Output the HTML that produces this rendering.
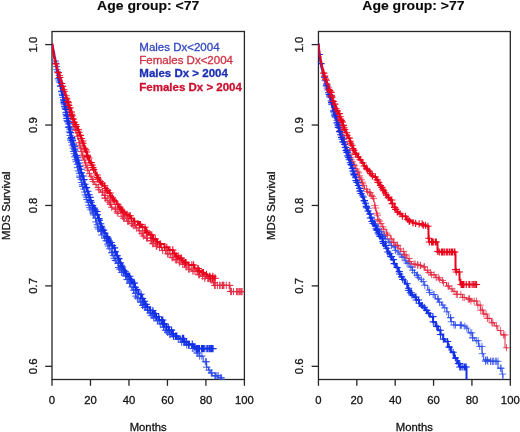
<!DOCTYPE html>
<html><head><meta charset="utf-8"><style>
html,body{margin:0;padding:0;background:#fff;width:520px;height:432px;overflow:hidden}
svg{display:block;filter:blur(0.35px)}
text{font-family:"Liberation Sans", sans-serif}
</style></head><body>
<svg width="520" height="432" viewBox="0 0 520 432" font-family='"Liberation Sans", sans-serif'><defs>
<clipPath id="cl"><rect x="52.0" y="31.5" width="192.4" height="348.0"/></clipPath>
<clipPath id="cr"><rect x="318.45" y="31.5" width="191.85000000000002" height="348.0"/></clipPath>
</defs><rect width="520" height="432" fill="#fff"/><g transform="translate(148.2 9.7) scale(1 0.86)"><text x="0" y="0" font-size="14" font-weight="bold" text-anchor="middle" fill="#0a0a0a" stroke="#0a0a0a" stroke-width="0.15">Age group: &lt;77</text></g>
<rect x="52.0" y="31.5" width="192.4" height="348.0" fill="none" stroke="#262626" stroke-width="1.3"/>
<line x1="52.0" y1="379.5" x2="52.0" y2="385.8" stroke="#262626" stroke-width="1.3"/>
<text x="52.0" y="404.3" font-size="11.3" font-weight="normal" text-anchor="middle" fill="#141414" stroke="#141414" stroke-width="0.3">0</text>
<line x1="90.47999999999999" y1="379.5" x2="90.47999999999999" y2="385.8" stroke="#262626" stroke-width="1.3"/>
<text x="90.47999999999999" y="404.3" font-size="11.3" font-weight="normal" text-anchor="middle" fill="#141414" stroke="#141414" stroke-width="0.3">20</text>
<line x1="128.95999999999998" y1="379.5" x2="128.95999999999998" y2="385.8" stroke="#262626" stroke-width="1.3"/>
<text x="128.95999999999998" y="404.3" font-size="11.3" font-weight="normal" text-anchor="middle" fill="#141414" stroke="#141414" stroke-width="0.3">40</text>
<line x1="167.44" y1="379.5" x2="167.44" y2="385.8" stroke="#262626" stroke-width="1.3"/>
<text x="167.44" y="404.3" font-size="11.3" font-weight="normal" text-anchor="middle" fill="#141414" stroke="#141414" stroke-width="0.3">60</text>
<line x1="205.92" y1="379.5" x2="205.92" y2="385.8" stroke="#262626" stroke-width="1.3"/>
<text x="205.92" y="404.3" font-size="11.3" font-weight="normal" text-anchor="middle" fill="#141414" stroke="#141414" stroke-width="0.3">80</text>
<line x1="244.4" y1="379.5" x2="244.4" y2="385.8" stroke="#262626" stroke-width="1.3"/>
<text x="244.4" y="404.3" font-size="11.3" font-weight="normal" text-anchor="middle" fill="#141414" stroke="#141414" stroke-width="0.3">100</text>
<text x="148.2" y="431.0" font-size="11.3" font-weight="normal" text-anchor="middle" fill="#141414" stroke="#141414" stroke-width="0.3">Months</text>
<line x1="45.2" y1="44.6" x2="52.0" y2="44.6" stroke="#262626" stroke-width="1.3"/>
<text x="36.8" y="44.6" font-size="11.3" font-weight="normal" text-anchor="middle" fill="#141414" stroke="#141414" stroke-width="0.3" transform="rotate(-90 36.8 44.6)">1.0</text>
<line x1="45.2" y1="125.02999999999997" x2="52.0" y2="125.02999999999997" stroke="#262626" stroke-width="1.3"/>
<text x="36.8" y="125.02999999999997" font-size="11.3" font-weight="normal" text-anchor="middle" fill="#141414" stroke="#141414" stroke-width="0.3" transform="rotate(-90 36.8 125.02999999999997)">0.9</text>
<line x1="45.2" y1="205.45999999999995" x2="52.0" y2="205.45999999999995" stroke="#262626" stroke-width="1.3"/>
<text x="36.8" y="205.45999999999995" font-size="11.3" font-weight="normal" text-anchor="middle" fill="#141414" stroke="#141414" stroke-width="0.3" transform="rotate(-90 36.8 205.45999999999995)">0.8</text>
<line x1="45.2" y1="285.89000000000004" x2="52.0" y2="285.89000000000004" stroke="#262626" stroke-width="1.3"/>
<text x="36.8" y="285.89000000000004" font-size="11.3" font-weight="normal" text-anchor="middle" fill="#141414" stroke="#141414" stroke-width="0.3" transform="rotate(-90 36.8 285.89000000000004)">0.7</text>
<line x1="45.2" y1="366.32000000000005" x2="52.0" y2="366.32000000000005" stroke="#262626" stroke-width="1.3"/>
<text x="36.8" y="366.32000000000005" font-size="11.3" font-weight="normal" text-anchor="middle" fill="#141414" stroke="#141414" stroke-width="0.3" transform="rotate(-90 36.8 366.32000000000005)">0.6</text>
<text x="9.700000000000003" y="205.8" font-size="11.3" font-weight="normal" text-anchor="middle" fill="#141414" stroke="#141414" stroke-width="0.3" transform="rotate(-90 9.700000000000003 205.8)">MDS Survival</text>
<g transform="translate(413.4 9.7) scale(1 0.86)"><text x="0" y="0" font-size="14" font-weight="bold" text-anchor="middle" fill="#0a0a0a" stroke="#0a0a0a" stroke-width="0.15">Age group: &gt;77</text></g>
<rect x="318.45" y="31.5" width="191.85000000000002" height="348.0" fill="none" stroke="#262626" stroke-width="1.3"/>
<line x1="318.45" y1="379.5" x2="318.45" y2="385.8" stroke="#262626" stroke-width="1.3"/>
<text x="318.45" y="404.3" font-size="11.3" font-weight="normal" text-anchor="middle" fill="#141414" stroke="#141414" stroke-width="0.3">0</text>
<line x1="356.82" y1="379.5" x2="356.82" y2="385.8" stroke="#262626" stroke-width="1.3"/>
<text x="356.82" y="404.3" font-size="11.3" font-weight="normal" text-anchor="middle" fill="#141414" stroke="#141414" stroke-width="0.3">20</text>
<line x1="395.19" y1="379.5" x2="395.19" y2="385.8" stroke="#262626" stroke-width="1.3"/>
<text x="395.19" y="404.3" font-size="11.3" font-weight="normal" text-anchor="middle" fill="#141414" stroke="#141414" stroke-width="0.3">40</text>
<line x1="433.56" y1="379.5" x2="433.56" y2="385.8" stroke="#262626" stroke-width="1.3"/>
<text x="433.56" y="404.3" font-size="11.3" font-weight="normal" text-anchor="middle" fill="#141414" stroke="#141414" stroke-width="0.3">60</text>
<line x1="471.93" y1="379.5" x2="471.93" y2="385.8" stroke="#262626" stroke-width="1.3"/>
<text x="471.93" y="404.3" font-size="11.3" font-weight="normal" text-anchor="middle" fill="#141414" stroke="#141414" stroke-width="0.3">80</text>
<line x1="510.3" y1="379.5" x2="510.3" y2="385.8" stroke="#262626" stroke-width="1.3"/>
<text x="510.3" y="404.3" font-size="11.3" font-weight="normal" text-anchor="middle" fill="#141414" stroke="#141414" stroke-width="0.3">100</text>
<text x="414.375" y="431.0" font-size="11.3" font-weight="normal" text-anchor="middle" fill="#141414" stroke="#141414" stroke-width="0.3">Months</text>
<line x1="311.65" y1="44.6" x2="318.45" y2="44.6" stroke="#262626" stroke-width="1.3"/>
<text x="303.25" y="44.6" font-size="11.3" font-weight="normal" text-anchor="middle" fill="#141414" stroke="#141414" stroke-width="0.3" transform="rotate(-90 303.25 44.6)">1.0</text>
<line x1="311.65" y1="125.02999999999997" x2="318.45" y2="125.02999999999997" stroke="#262626" stroke-width="1.3"/>
<text x="303.25" y="125.02999999999997" font-size="11.3" font-weight="normal" text-anchor="middle" fill="#141414" stroke="#141414" stroke-width="0.3" transform="rotate(-90 303.25 125.02999999999997)">0.9</text>
<line x1="311.65" y1="205.45999999999995" x2="318.45" y2="205.45999999999995" stroke="#262626" stroke-width="1.3"/>
<text x="303.25" y="205.45999999999995" font-size="11.3" font-weight="normal" text-anchor="middle" fill="#141414" stroke="#141414" stroke-width="0.3" transform="rotate(-90 303.25 205.45999999999995)">0.8</text>
<line x1="311.65" y1="285.89000000000004" x2="318.45" y2="285.89000000000004" stroke="#262626" stroke-width="1.3"/>
<text x="303.25" y="285.89000000000004" font-size="11.3" font-weight="normal" text-anchor="middle" fill="#141414" stroke="#141414" stroke-width="0.3" transform="rotate(-90 303.25 285.89000000000004)">0.7</text>
<line x1="311.65" y1="366.32000000000005" x2="318.45" y2="366.32000000000005" stroke="#262626" stroke-width="1.3"/>
<text x="303.25" y="366.32000000000005" font-size="11.3" font-weight="normal" text-anchor="middle" fill="#141414" stroke="#141414" stroke-width="0.3" transform="rotate(-90 303.25 366.32000000000005)">0.6</text>
<text x="274.54999999999995" y="205.8" font-size="11.3" font-weight="normal" text-anchor="middle" fill="#141414" stroke="#141414" stroke-width="0.3" transform="rotate(-90 274.54999999999995 205.8)">MDS Survival</text>
<text x="139.3" y="50.7" font-size="11.5" font-weight="normal" text-anchor="start" fill="#3248c0" stroke="#3248c0" stroke-width="0.3">Males Dx&lt;2004</text>
<text x="139.3" y="63.8" font-size="11.5" font-weight="normal" text-anchor="start" fill="#d03040" stroke="#d03040" stroke-width="0.3">Females Dx&lt;2004</text>
<text x="139.3" y="77.3" font-size="11.5" font-weight="bold" text-anchor="start" fill="#1c30b4" stroke="#1c30b4" stroke-width="0.3">Males Dx &gt; 2004</text>
<text x="139.3" y="90.8" font-size="11.5" font-weight="bold" text-anchor="start" fill="#cc1030" stroke="#cc1030" stroke-width="0.3">Females Dx &gt; 2004</text>
<g clip-path="url(#cl)" fill="none" stroke="#2e4ce8">
<path d="M52.00,44.60 52.29,44.60 52.29,46.08 52.89,46.08 52.89,49.17 53.46,49.17 53.46,52.08 53.80,52.08 53.80,53.83 54.25,53.83 54.25,56.13 54.67,56.13 54.67,58.33 55.17,58.33 55.17,60.98 55.69,60.98 55.69,63.96 55.94,63.96 55.94,65.36 56.16,65.36 56.16,66.61 56.70,66.61 56.70,69.70 57.08,69.70 57.08,71.87 57.59,71.87 57.59,74.80 57.80,74.80 57.80,76.00 58.19,76.00 58.19,78.20 58.76,78.20 58.76,81.03 59.18,81.03 59.18,82.72 60.01,82.72 60.01,86.02 60.81,86.02 60.81,89.24 61.12,89.24 61.12,90.49 61.43,90.49 61.43,91.73 62.04,91.73 62.04,94.14 62.86,94.14 62.86,97.46 63.38,97.46 63.38,99.51 63.71,99.51 63.71,101.22 64.09,101.22 64.09,103.40 64.31,103.40 64.31,104.69 64.61,104.69 64.61,106.41 65.00,106.41 65.00,108.64 65.41,108.64 65.41,111.01 65.72,111.01 65.72,112.77 66.03,112.77 66.03,114.53 66.33,114.53 66.33,116.26 66.73,116.26 66.73,118.56 67.06,118.56 67.06,120.46 67.29,120.46 67.29,121.74 67.87,121.74 67.87,124.91 68.33,124.91 68.33,127.44 68.83,127.44 68.83,130.17 69.14,130.17 69.14,131.84 69.79,131.84 69.79,135.40 70.39,135.40 70.39,138.66 70.67,138.66 70.67,140.19 71.05,140.19 71.05,142.21 71.75,142.21 71.75,145.13 72.44,145.13 72.44,148.02 73.26,148.02 73.26,151.45 73.80,151.45 73.80,153.69 74.57,153.69 74.57,156.89 75.28,156.89 75.28,159.71 75.80,159.71 75.80,161.68 76.50,161.68 76.50,164.32 77.38,164.32 77.38,167.66 78.24,167.66 78.24,170.92 78.89,170.92 78.89,173.39 79.61,173.39 79.61,176.07 79.98,176.07 79.98,177.43 80.48,177.43 80.48,179.29 81.34,179.29 81.34,182.48 81.95,182.48 81.95,184.77 82.41,184.77 82.41,186.48 83.21,186.48 83.21,189.08 84.15,189.08 84.15,192.05 85.07,192.05 85.07,194.96 85.77,194.96 85.77,197.16 86.52,197.16 86.52,199.53 87.32,199.53 87.32,202.08 88.39,202.08 88.39,205.27 89.69,205.27 89.69,207.67 90.84,207.67 90.84,209.80 92.11,209.80 92.11,212.16 92.82,212.16 92.82,213.49 93.40,213.49 93.40,214.92 94.42,214.92 94.42,218.04 95.67,218.04 95.67,221.87 96.61,221.87 96.61,224.75 97.39,224.75 97.39,227.15 98.00,227.15 98.00,228.99 99.43,228.99 99.43,231.42 101.53,231.42 101.53,235.00 103.36,235.00 103.36,238.12 104.90,238.12 104.90,240.72 106.89,240.72 106.89,244.12 108.02,244.12 108.02,246.04 109.33,246.04 109.33,248.78 111.19,248.78 111.19,252.66 112.61,252.66 112.61,255.62 113.89,255.62 113.89,258.29 114.95,258.29 114.95,260.49 116.36,260.49 116.36,263.44 118.31,263.44 118.31,267.51 119.05,267.51 119.05,269.06 121.25,269.06 121.25,272.47 123.70,272.47 123.70,275.91 126.30,275.91 126.30,279.58 128.31,279.58 128.31,283.17 130.39,283.17 130.39,287.03 132.07,287.03 132.07,290.12 133.97,290.12 133.97,293.29 135.67,293.29 135.67,296.12 136.76,296.12 136.76,297.94 139.25,297.94 139.25,302.08 141.34,302.08 141.34,305.36 143.18,305.36 143.18,307.34 145.76,307.34 145.76,310.10 148.33,310.10 148.33,312.86 150.65,312.86 150.65,315.33 152.97,315.33 152.97,317.82 155.86,317.82 155.86,320.80 159.20,320.80 159.20,323.88 162.46,323.88 162.46,327.12 165.13,327.12 165.13,330.24 166.76,330.24 166.76,332.15 169.14,332.15 169.14,334.45 171.68,334.45 171.68,336.36 175.58,336.36 175.58,339.28 180.98,339.28 180.98,342.18 186.32,342.18 186.32,345.09 191.59,345.09 191.59,348.47 196.34,348.47 196.34,353.01 199.12,353.01 199.12,356.09 203.24,356.09 203.24,361.74 206.56,361.74 206.56,367.16 208.51,367.16 208.51,370.17 210.34,370.17 210.34,372.92 212.10,372.92 212.10,375.75 218.25,375.75 218.25,377.80 221.54,377.80 221.54,379.47 221.66,379.47 221.66,383.55 221.86,383.55 221.86,390.37 222.00,390.37 222.00,395.00" stroke-width="1.0"/>
<path d="M51.92,60.98h7.20M55.52,57.38v7.20M52.92,66.61h7.20M56.52,63.01v7.20M53.27,69.70h7.20M56.87,66.10v7.20M53.98,71.87h7.20M57.58,68.27v7.20M55.53,81.03h7.20M59.13,77.43v7.20M56.27,82.72h7.20M59.87,79.12v7.20M57.06,86.02h7.20M60.66,82.42v7.20M58.25,91.73h7.20M61.85,88.13v7.20M58.57,94.14h7.20M62.17,90.54v7.20M59.43,97.46h7.20M63.03,93.86v7.20M60.06,99.51h7.20M63.66,95.91v7.20M60.41,101.22h7.20M64.01,97.62v7.20M60.53,103.40h7.20M64.13,99.80v7.20M60.81,104.69h7.20M64.41,101.09v7.20M61.10,106.41h7.20M64.70,102.81v7.20M61.77,108.64h7.20M65.37,105.04v7.20M62.26,112.77h7.20M65.86,109.17v7.20M62.51,114.53h7.20M66.11,110.93v7.20M63.12,116.26h7.20M66.72,112.66v7.20M63.17,118.56h7.20M66.77,114.96v7.20M63.47,120.46h7.20M67.07,116.86v7.20M64.15,121.74h7.20M67.75,118.14v7.20M64.83,127.44h7.20M68.43,123.84v7.20M65.87,131.84h7.20M69.47,128.24v7.20M66.40,135.40h7.20M70.00,131.80v7.20M67.00,138.66h7.20M70.60,135.06v7.20M67.15,140.19h7.20M70.75,136.59v7.20M67.98,142.21h7.20M71.58,138.61v7.20M68.80,145.13h7.20M72.40,141.53v7.20M69.58,148.02h7.20M73.18,144.42v7.20M69.89,151.45h7.20M73.49,147.85v7.20M70.63,153.69h7.20M74.23,150.09v7.20M71.09,156.89h7.20M74.69,153.29v7.20M72.18,159.71h7.20M75.78,156.11v7.20M72.48,161.68h7.20M76.08,158.08v7.20M73.76,164.32h7.20M77.36,160.72v7.20M73.82,167.66h7.20M77.42,164.06v7.20M74.77,170.92h7.20M78.37,167.32v7.20M75.92,173.39h7.20M79.52,169.79v7.20M76.06,176.07h7.20M79.66,172.47v7.20M76.48,177.43h7.20M80.08,173.83v7.20M77.50,179.29h7.20M81.10,175.69v7.20M77.83,182.48h7.20M81.43,178.88v7.20M78.78,184.77h7.20M82.38,181.17v7.20M78.95,186.48h7.20M82.55,182.88v7.20M80.28,189.08h7.20M83.88,185.48v7.20M81.11,192.05h7.20M84.71,188.45v7.20M81.64,194.96h7.20M85.24,191.36v7.20M82.75,197.16h7.20M86.35,193.56v7.20M83.27,199.53h7.20M86.87,195.93v7.20M84.56,202.08h7.20M88.16,198.48v7.20M85.32,205.27h7.20M88.92,201.67v7.20M86.09,207.67h7.20M89.69,204.07v7.20M87.28,209.80h7.20M90.88,206.20v7.20M89.22,212.16h7.20M92.82,208.56v7.20M89.74,213.49h7.20M93.34,209.89v7.20M89.87,214.92h7.20M93.47,211.32v7.20M92.07,218.04h7.20M95.67,214.44v7.20M92.28,221.87h7.20M95.88,218.27v7.20M93.69,224.75h7.20M97.29,221.15v7.20M93.92,227.15h7.20M97.52,223.55v7.20M94.88,228.99h7.20M98.48,225.39v7.20M97.79,231.42h7.20M101.39,227.82v7.20M97.05,231.42h7.20M100.65,227.82v7.20M98.18,235.00h7.20M101.78,231.40v7.20M101.18,238.12h7.20M104.78,234.52v7.20M103.24,240.72h7.20M106.84,237.12v7.20M102.53,240.72h7.20M106.13,237.12v7.20M104.07,244.12h7.20M107.67,240.52v7.20M104.68,246.04h7.20M108.28,242.44v7.20M106.17,248.78h7.20M109.77,245.18v7.20M108.03,252.66h7.20M111.63,249.06v7.20M108.88,252.66h7.20M112.48,249.06v7.20M109.63,255.62h7.20M113.23,252.02v7.20M110.48,258.29h7.20M114.08,254.69v7.20M112.26,260.49h7.20M115.86,256.89v7.20M111.75,260.49h7.20M115.35,256.89v7.20M114.36,263.44h7.20M117.96,259.84v7.20M115.01,267.51h7.20M118.61,263.91v7.20M115.95,269.06h7.20M119.55,265.46v7.20M117.27,269.06h7.20M120.87,265.46v7.20M117.84,272.47h7.20M121.44,268.87v7.20M119.46,272.47h7.20M123.06,268.87v7.20M122.33,275.91h7.20M125.93,272.31v7.20M122.06,275.91h7.20M125.66,272.31v7.20M123.66,279.58h7.20M127.26,275.98v7.20M123.58,279.58h7.20M127.18,275.98v7.20M126.18,283.17h7.20M129.78,279.57v7.20M126.14,283.17h7.20M129.74,279.57v7.20M128.38,287.03h7.20M131.98,283.43v7.20M129.94,290.12h7.20M133.54,286.52v7.20M131.79,293.29h7.20M135.39,289.69v7.20M132.01,293.29h7.20M135.61,289.69v7.20M132.17,296.12h7.20M135.77,292.52v7.20M134.45,297.94h7.20M138.05,294.34v7.20M133.70,297.94h7.20M137.30,294.34v7.20M137.28,302.08h7.20M140.88,298.48v7.20M137.04,302.08h7.20M140.64,298.48v7.20M139.02,305.36h7.20M142.62,301.76v7.20M139.10,305.36h7.20M142.70,301.76v7.20M141.90,307.34h7.20M145.50,303.74v7.20M140.74,307.34h7.20M144.34,303.74v7.20M144.39,310.10h7.20M147.99,306.50v7.20M144.09,310.10h7.20M147.69,306.50v7.20M146.59,312.86h7.20M150.19,309.26v7.20M146.62,312.86h7.20M150.22,309.26v7.20M147.66,315.33h7.20M151.26,311.73v7.20M148.81,315.33h7.20M152.41,311.73v7.20M151.54,317.82h7.20M155.14,314.22v7.20M150.04,317.82h7.20M153.64,314.22v7.20M153.93,320.80h7.20M157.53,317.20v7.20M155.52,320.80h7.20M159.12,317.20v7.20M158.75,323.88h7.20M162.35,320.28v7.20M156.62,323.88h7.20M160.22,320.28v7.20M160.18,327.12h7.20M163.78,323.52v7.20M160.02,327.12h7.20M163.62,323.52v7.20M161.73,330.24h7.20M165.33,326.64v7.20M162.96,330.24h7.20M166.56,326.64v7.20M164.17,332.15h7.20M167.77,328.55v7.20M164.15,332.15h7.20M167.75,328.55v7.20M167.21,334.45h7.20M170.81,330.85v7.20M166.10,334.45h7.20M169.70,330.85v7.20M170.19,336.36h7.20M173.79,332.76v7.20M169.77,336.36h7.20M173.37,332.76v7.20M170.06,336.36h7.20M173.66,332.76v7.20M174.63,339.28h7.20M178.23,335.68v7.20M177.15,339.28h7.20M180.75,335.68v7.20M176.59,339.28h7.20M180.19,335.68v7.20M178.01,342.18h7.20M181.61,338.58v7.20M179.83,342.18h7.20M183.43,338.58v7.20M180.89,342.18h7.20M184.49,338.58v7.20M183.20,345.09h7.20M186.80,341.49v7.20M185.07,345.09h7.20M188.67,341.49v7.20M185.29,345.09h7.20M188.89,341.49v7.20M190.31,348.47h7.20M193.91,344.87v7.20M192.32,348.47h7.20M195.92,344.87v7.20M188.75,348.47h7.20M192.35,344.87v7.20M193.35,353.01h7.20M196.95,349.41v7.20M194.18,353.01h7.20M197.78,349.41v7.20M198.28,356.09h7.20M201.88,352.49v7.20M196.06,356.09h7.20M199.66,352.49v7.20M201.77,361.74h7.20M205.37,358.14v7.20M202.77,361.74h7.20M206.37,358.14v7.20M203.15,367.16h7.20M206.75,363.56v7.20M205.53,370.17h7.20M209.13,366.57v7.20M208.11,372.92h7.20M211.71,369.32v7.20M207.72,372.92h7.20M211.32,369.32v7.20M211.95,375.75h7.20M215.55,372.15v7.20M211.30,375.75h7.20M214.90,372.15v7.20M213.27,375.75h7.20M216.87,372.15v7.20M214.56,375.75h7.20M218.16,372.15v7.20M217.04,377.80h7.20M220.64,374.20v7.20M217.63,377.80h7.20M221.23,374.20v7.20M218.05,379.47h7.20M221.65,375.87v7.20M218.13,383.55h7.20M221.73,379.95v7.20M218.27,390.37h7.20M221.87,386.77v7.20" stroke-width="0.9" stroke-opacity="1.0"/>
</g>
<g clip-path="url(#cl)" fill="none" stroke="#e42a44">
<path d="M52.00,44.60 52.54,44.60 52.54,47.95 53.09,47.95 53.09,51.29 53.30,51.29 53.30,52.61 53.52,52.61 53.52,53.98 54.02,53.98 54.02,57.07 54.49,57.07 54.49,59.93 55.24,59.93 55.24,62.57 55.78,62.57 55.78,64.40 56.50,64.40 56.50,66.90 57.23,66.90 57.23,69.41 57.94,69.41 57.94,71.86 58.38,71.86 58.38,73.38 58.99,73.38 58.99,75.50 59.59,75.50 59.59,77.54 60.40,77.54 60.40,80.32 61.49,80.32 61.49,83.67 62.56,83.67 62.56,86.94 63.33,86.94 63.33,89.32 64.03,89.32 64.03,91.48 64.61,91.48 64.61,93.25 65.01,93.25 65.01,94.50 65.42,94.50 65.42,95.74 66.14,95.74 66.14,97.96 66.75,97.96 66.75,99.86 67.27,99.86 67.27,101.94 68.05,101.94 68.05,105.20 68.64,105.20 68.64,107.63 69.25,107.63 69.25,110.14 69.67,110.14 69.67,111.91 69.98,111.91 69.98,113.20 70.46,113.20 70.46,115.18 70.84,115.18 70.84,116.73 71.42,116.73 71.42,119.14 72.50,119.14 72.50,122.64 73.41,122.64 73.41,125.39 73.95,125.39 73.95,127.03 75.04,127.03 75.04,130.30 76.05,130.30 76.05,133.36 77.02,133.36 77.02,136.29 78.13,136.29 78.13,139.63 78.95,139.63 78.95,142.71 79.76,142.71 79.76,145.87 80.30,145.87 80.30,148.01 81.23,148.01 81.23,151.64 82.16,151.64 82.16,155.25 82.59,155.25 82.59,156.95 83.41,156.95 83.41,160.07 84.71,160.07 84.71,162.93 85.75,162.93 85.75,165.24 86.73,165.24 86.73,167.77 87.69,167.77 87.69,170.21 89.05,170.21 89.05,173.71 90.02,173.71 90.02,176.21 91.31,176.21 91.31,179.52 92.55,179.52 92.55,181.49 94.69,181.49 94.69,184.55 96.99,184.55 96.99,187.60 98.64,187.60 98.64,189.74 100.47,189.74 100.47,192.14 102.91,192.14 102.91,195.31 105.05,195.31 105.05,198.11 106.80,198.11 106.80,200.43 108.06,200.43 108.06,202.23 109.50,202.23 109.50,204.28 111.56,204.28 111.56,207.22 112.76,207.22 112.76,208.95 115.83,208.95 115.83,211.86 117.75,211.86 117.75,213.40 121.04,213.40 121.04,216.34 123.01,216.34 123.01,218.16 126.58,218.16 126.58,221.20 129.77,221.20 129.77,223.63 132.52,223.63 132.52,225.73 135.36,225.73 135.36,227.89 138.18,227.89 138.18,230.82 140.89,230.82 140.89,233.67 142.93,233.67 142.93,235.96 144.76,235.96 144.76,238.03 147.51,238.03 147.51,240.67 152.00,240.67 152.00,243.67 155.69,243.67 155.69,246.12 157.78,246.12 157.78,247.52 162.17,247.52 162.17,250.56 166.10,250.56 166.10,253.84 170.69,253.84 170.69,257.66 173.20,257.66 173.20,259.75 177.89,259.75 177.89,262.74 180.33,262.74 180.33,264.27 184.98,264.27 184.98,267.09 188.36,267.09 188.36,269.12 191.64,269.12 191.64,271.09 197.44,271.09 197.44,274.71 200.40,274.71 200.40,276.56 205.38,276.56 205.38,278.50 212.71,278.50 212.71,278.50 213.00,278.50 213.00,282.76 214.74,282.76 214.74,285.40 222.62,285.40 222.62,285.40 228.40,285.40 228.40,285.40 230.00,285.40 230.00,291.41 233.67,291.41 233.67,291.60 239.50,291.60 239.50,291.60 243.50,291.60 243.50,291.60" stroke-width="1.0"/>
<path d="M55.83,75.50h7.20M59.43,71.90v7.20M60.72,91.48h7.20M64.32,87.88v7.20M62.45,95.74h7.20M66.05,92.14v7.20M63.22,99.86h7.20M66.82,96.26v7.20M64.80,105.20h7.20M68.40,101.60v7.20M65.38,107.63h7.20M68.98,104.03v7.20M65.78,110.14h7.20M69.38,106.54v7.20M66.09,111.91h7.20M69.69,108.31v7.20M66.86,115.18h7.20M70.46,111.58v7.20M67.68,116.73h7.20M71.28,113.13v7.20M68.82,119.14h7.20M72.42,115.54v7.20M69.39,122.64h7.20M72.99,119.04v7.20M70.39,127.03h7.20M73.99,123.43v7.20M71.62,130.30h7.20M75.22,126.70v7.20M73.81,136.29h7.20M77.41,132.69v7.20M75.42,142.71h7.20M79.02,139.11v7.20M76.35,145.87h7.20M79.95,142.27v7.20M77.33,148.01h7.20M80.93,144.41v7.20M77.68,151.64h7.20M81.28,148.04v7.20M78.61,155.25h7.20M82.21,151.65v7.20M79.52,156.95h7.20M83.12,153.35v7.20M80.89,160.07h7.20M84.49,156.47v7.20M82.04,162.93h7.20M85.64,159.33v7.20M82.26,165.24h7.20M85.86,161.64v7.20M83.66,167.77h7.20M87.26,164.17v7.20M84.23,170.21h7.20M87.83,166.61v7.20M85.96,173.71h7.20M89.56,170.11v7.20M87.43,176.21h7.20M91.03,172.61v7.20M88.82,179.52h7.20M92.42,175.92v7.20M89.78,181.49h7.20M93.38,177.89v7.20M92.34,184.55h7.20M95.94,180.95v7.20M94.74,187.60h7.20M98.34,184.00v7.20M95.27,189.74h7.20M98.87,186.14v7.20M98.74,192.14h7.20M102.34,188.54v7.20M98.78,192.14h7.20M102.38,188.54v7.20M101.20,195.31h7.20M104.80,191.71v7.20M101.17,195.31h7.20M104.77,191.71v7.20M101.65,198.11h7.20M105.25,194.51v7.20M101.62,198.11h7.20M105.22,194.51v7.20M104.29,200.43h7.20M107.89,196.83v7.20M105.74,202.23h7.20M109.34,198.63v7.20M106.86,204.28h7.20M110.46,200.68v7.20M106.99,204.28h7.20M110.59,200.68v7.20M108.10,207.22h7.20M111.70,203.62v7.20M111.89,208.95h7.20M115.49,205.35v7.20M111.56,208.95h7.20M115.16,205.35v7.20M113.50,211.86h7.20M117.10,208.26v7.20M114.36,213.40h7.20M117.96,209.80v7.20M118.85,216.34h7.20M122.45,212.74v7.20M120.99,218.16h7.20M124.59,214.56v7.20M119.91,218.16h7.20M123.51,214.56v7.20M123.87,221.20h7.20M127.47,217.60v7.20M124.95,221.20h7.20M128.55,217.60v7.20M127.91,223.63h7.20M131.51,220.03v7.20M128.72,223.63h7.20M132.32,220.03v7.20M129.65,225.73h7.20M133.25,222.13v7.20M131.45,225.73h7.20M135.05,222.13v7.20M133.07,227.89h7.20M136.67,224.29v7.20M135.76,230.82h7.20M139.36,227.22v7.20M138.36,233.67h7.20M141.96,230.07v7.20M139.17,233.67h7.20M142.77,230.07v7.20M139.72,235.96h7.20M143.32,232.36v7.20M143.80,238.03h7.20M147.40,234.43v7.20M142.93,238.03h7.20M146.53,234.43v7.20M147.15,240.67h7.20M150.75,237.07v7.20M147.93,240.67h7.20M151.53,237.07v7.20M150.18,243.67h7.20M153.78,240.07v7.20M149.01,243.67h7.20M152.61,240.07v7.20M153.22,246.12h7.20M156.82,242.52v7.20M152.67,246.12h7.20M156.27,242.52v7.20M155.89,247.52h7.20M159.49,243.92v7.20M157.89,247.52h7.20M161.49,243.92v7.20M159.03,250.56h7.20M162.63,246.96v7.20M161.99,250.56h7.20M165.59,246.96v7.20M163.89,253.84h7.20M167.49,250.24v7.20M165.26,253.84h7.20M168.86,250.24v7.20M168.50,257.66h7.20M172.10,254.06v7.20M169.32,257.66h7.20M172.92,254.06v7.20M172.93,259.75h7.20M176.53,256.15v7.20M171.69,259.75h7.20M175.29,256.15v7.20M175.74,262.74h7.20M179.34,259.14v7.20M179.19,264.27h7.20M182.79,260.67v7.20M180.87,264.27h7.20M184.47,260.67v7.20M182.57,267.09h7.20M186.17,263.49v7.20M184.92,269.12h7.20M188.52,265.52v7.20M186.14,269.12h7.20M189.74,265.52v7.20M190.49,271.09h7.20M194.09,267.49v7.20M189.23,271.09h7.20M192.83,267.49v7.20M192.37,271.09h7.20M195.97,267.49v7.20M195.80,274.71h7.20M199.40,271.11v7.20M195.04,274.71h7.20M198.64,271.11v7.20M201.65,276.56h7.20M205.25,272.96v7.20M199.02,276.56h7.20M202.62,272.96v7.20M205.06,278.50h7.20M208.66,274.90v7.20M208.32,278.50h7.20M211.92,274.90v7.20M205.23,278.50h7.20M208.83,274.90v7.20M206.30,278.50h7.20M209.90,274.90v7.20M209.14,278.50h7.20M212.74,274.90v7.20M210.66,282.76h7.20M214.26,279.16v7.20M210.00,282.76h7.20M213.60,279.16v7.20M216.01,285.40h7.20M219.61,281.80v7.20M211.69,285.40h7.20M215.29,281.80v7.20M218.95,285.40h7.20M222.55,281.80v7.20M219.21,285.40h7.20M222.81,281.80v7.20M219.80,285.40h7.20M223.40,281.80v7.20M226.21,285.40h7.20M229.81,281.80v7.20M227.02,291.41h7.20M230.62,287.81v7.20M227.60,291.41h7.20M231.20,287.81v7.20M235.28,291.60h7.20M238.88,288.00v7.20M234.00,291.60h7.20M237.60,288.00v7.20M237.07,291.60h7.20M240.67,288.00v7.20M238.15,291.60h7.20M241.75,288.00v7.20M201.18,278.50h7.20M204.78,274.90v7.20M204.11,278.50h7.20M207.71,274.90v7.20M207.26,278.50h7.20M210.86,274.90v7.20M211.05,285.40h7.20M214.65,281.80v7.20M213.84,285.40h7.20M217.44,281.80v7.20M216.56,285.40h7.20M220.16,281.80v7.20M218.52,285.40h7.20M222.12,281.80v7.20M220.35,285.40h7.20M223.95,281.80v7.20M222.69,285.40h7.20M226.29,281.80v7.20M225.54,285.40h7.20M229.14,281.80v7.20M227.65,291.60h7.20M231.25,288.00v7.20M229.90,291.60h7.20M233.50,288.00v7.20M232.88,291.60h7.20M236.48,288.00v7.20M236.00,291.60h7.20M239.60,288.00v7.20M238.37,291.60h7.20M241.97,288.00v7.20" stroke-width="0.9" stroke-opacity="1.0"/>
</g>
<g clip-path="url(#cl)" fill="none" stroke="#1330e6">
<path d="M52.00,44.60 52.33,44.60 52.33,46.32 52.80,46.32 52.80,48.72 53.20,48.72 53.20,50.74 53.69,50.74 53.69,53.28 54.20,53.28 54.20,55.87 54.45,55.87 54.45,57.20 54.69,57.20 54.69,58.41 55.26,58.41 55.26,61.49 55.57,61.49 55.57,63.26 55.87,63.26 55.87,64.98 56.48,64.98 56.48,68.43 56.87,68.43 56.87,70.69 57.41,70.69 57.41,73.79 57.81,73.79 57.81,76.06 58.27,76.06 58.27,78.71 58.56,78.71 58.56,80.24 59.21,80.24 59.21,82.85 59.99,82.85 59.99,85.98 60.58,85.98 60.58,88.34 61.30,88.34 61.30,91.19 61.97,91.19 61.97,93.90 62.31,93.90 62.31,95.23 63.03,95.23 63.03,98.14 63.64,98.14 63.64,100.68 64.03,100.68 64.03,102.57 64.30,102.57 64.30,103.85 64.96,103.85 64.96,107.05 65.44,107.05 65.44,109.35 66.03,109.35 66.03,112.22 66.70,112.22 66.70,115.46 67.30,115.46 67.30,118.33 68.00,118.33 68.00,121.69 68.46,121.69 68.46,123.83 69.13,123.83 69.13,126.91 69.62,126.91 69.62,129.17 70.36,129.17 70.36,132.58 71.07,132.58 71.07,135.87 71.39,135.87 71.39,137.34 71.73,137.34 71.73,138.90 72.11,138.90 72.11,140.65 72.98,140.65 72.98,144.14 73.60,144.14 73.60,146.38 74.33,146.38 74.33,149.08 74.86,149.08 74.86,151.03 75.53,151.03 75.53,153.46 76.12,153.46 76.12,155.62 76.68,155.62 76.68,157.70 77.45,157.70 77.45,160.32 78.23,160.32 78.23,162.94 79.24,162.94 79.24,166.33 80.09,166.33 80.09,169.21 81.12,169.21 81.12,172.68 82.12,172.68 82.12,176.00 83.23,176.00 83.23,179.65 84.11,179.65 84.11,182.55 84.62,182.55 84.62,184.25 85.67,184.25 85.67,187.62 86.92,187.62 86.92,191.21 88.14,191.21 88.14,194.69 89.08,194.69 89.08,197.38 90.15,197.38 90.15,200.43 90.80,200.43 90.80,202.28 92.09,202.28 92.09,205.59 93.54,205.59 93.54,208.13 94.63,208.13 94.63,210.03 95.43,210.03 95.43,211.43 97.14,211.43 97.14,214.72 98.47,214.72 98.47,218.61 99.02,218.61 99.02,220.25 100.20,220.25 100.20,223.70 101.04,223.70 101.04,226.18 101.66,226.18 101.66,228.00 102.64,228.00 102.64,230.09 104.49,230.09 104.49,233.23 106.50,233.23 106.50,236.64 107.36,236.64 107.36,238.11 109.03,238.11 109.03,240.96 109.91,240.96 109.91,242.45 111.76,242.45 111.76,245.60 112.91,245.60 112.91,247.91 114.73,247.91 114.73,251.69 116.68,251.69 116.68,255.77 118.06,255.77 118.06,258.64 120.08,258.64 120.08,262.86 121.23,262.86 121.23,265.26 122.08,265.26 122.08,267.04 123.68,267.04 123.68,270.25 124.76,270.25 124.76,271.78 126.15,271.78 126.15,273.73 127.93,273.73 127.93,276.24 130.10,276.24 130.10,279.30 131.32,279.30 131.32,281.32 132.27,281.32 132.27,283.10 134.50,283.10 134.50,287.22 135.90,287.22 135.90,289.81 138.51,289.81 138.51,294.19 141.07,294.19 141.07,298.45 142.77,298.45 142.77,301.28 144.63,301.28 144.63,304.38 147.14,304.38 147.14,307.30 150.12,307.30 150.12,310.49 153.04,310.49 153.04,313.62 155.93,313.62 155.93,316.71 159.02,316.71 159.02,320.02 163.31,320.02 163.31,323.98 166.37,323.98 166.37,327.02 169.04,327.02 169.04,330.14 172.62,330.14 172.62,334.07 175.42,334.07 175.42,336.16 178.48,336.16 178.48,338.46 184.29,338.46 184.29,341.82 188.73,341.82 188.73,344.14 193.25,344.14 193.25,346.85 195.22,346.85 195.22,348.60 200.09,348.60 200.09,348.60 205.89,348.60 205.89,348.60 209.15,348.60 209.15,348.60 213.50,348.60 213.50,348.60" stroke-width="2.0"/>
<path d="M52.04,63.26h7.20M55.64,59.66v7.20M54.81,78.71h7.20M58.41,75.11v7.20M56.93,85.98h7.20M60.53,82.38v7.20M58.09,91.19h7.20M61.69,87.59v7.20M58.92,95.23h7.20M62.52,91.63v7.20M60.32,100.68h7.20M63.92,97.08v7.20M60.54,102.57h7.20M64.14,98.97v7.20M61.43,107.05h7.20M65.03,103.45v7.20M62.40,109.35h7.20M66.00,105.75v7.20M62.98,112.22h7.20M66.58,108.62v7.20M63.58,115.46h7.20M67.18,111.86v7.20M63.76,118.33h7.20M67.36,114.73v7.20M64.62,121.69h7.20M68.22,118.09v7.20M65.42,123.83h7.20M69.02,120.23v7.20M65.62,126.91h7.20M69.22,123.31v7.20M66.63,129.17h7.20M70.23,125.57v7.20M66.82,132.58h7.20M70.42,128.98v7.20M68.06,137.34h7.20M71.66,133.74v7.20M68.48,138.90h7.20M72.08,135.30v7.20M68.92,140.65h7.20M72.52,137.05v7.20M69.93,144.14h7.20M73.53,140.54v7.20M70.69,146.38h7.20M74.29,142.78v7.20M70.96,149.08h7.20M74.56,145.48v7.20M71.45,151.03h7.20M75.05,147.43v7.20M72.54,155.62h7.20M76.14,152.02v7.20M73.63,157.70h7.20M77.23,154.10v7.20M74.49,160.32h7.20M78.09,156.72v7.20M75.15,162.94h7.20M78.75,159.34v7.20M75.06,162.94h7.20M78.66,159.34v7.20M76.15,166.33h7.20M79.75,162.73v7.20M77.39,169.21h7.20M80.99,165.61v7.20M77.34,169.21h7.20M80.94,165.61v7.20M77.83,172.68h7.20M81.43,169.08v7.20M79.16,176.00h7.20M82.76,172.40v7.20M79.58,176.00h7.20M83.18,172.40v7.20M80.37,179.65h7.20M83.97,176.05v7.20M81.33,184.25h7.20M84.93,180.65v7.20M82.99,187.62h7.20M86.59,184.02v7.20M84.30,191.21h7.20M87.90,187.61v7.20M85.41,194.69h7.20M89.01,191.09v7.20M86.45,197.38h7.20M90.05,193.78v7.20M87.02,200.43h7.20M90.62,196.83v7.20M87.60,202.28h7.20M91.20,198.68v7.20M89.04,205.59h7.20M92.64,201.99v7.20M90.61,208.13h7.20M94.21,204.53v7.20M91.69,210.03h7.20M95.29,206.43v7.20M91.96,211.43h7.20M95.56,207.83v7.20M93.35,211.43h7.20M96.95,207.83v7.20M93.85,214.72h7.20M97.45,211.12v7.20M95.32,218.61h7.20M98.92,215.01v7.20M95.89,220.25h7.20M99.49,216.65v7.20M95.73,220.25h7.20M99.33,216.65v7.20M97.11,223.70h7.20M100.71,220.10v7.20M97.71,226.18h7.20M101.31,222.58v7.20M98.35,228.00h7.20M101.95,224.40v7.20M100.01,230.09h7.20M103.61,226.49v7.20M99.23,230.09h7.20M102.83,226.49v7.20M101.37,233.23h7.20M104.97,229.63v7.20M103.24,236.64h7.20M106.84,233.04v7.20M104.20,238.11h7.20M107.80,234.51v7.20M105.81,240.96h7.20M109.41,237.36v7.20M106.32,242.45h7.20M109.92,238.85v7.20M107.57,242.45h7.20M111.17,238.85v7.20M108.94,245.60h7.20M112.54,242.00v7.20M111.01,247.91h7.20M114.61,244.31v7.20M111.79,251.69h7.20M115.39,248.09v7.20M111.38,251.69h7.20M114.98,248.09v7.20M113.67,255.77h7.20M117.27,252.17v7.20M115.28,258.64h7.20M118.88,255.04v7.20M114.80,258.64h7.20M118.40,255.04v7.20M116.62,262.86h7.20M120.22,259.26v7.20M117.64,265.26h7.20M121.24,261.66v7.20M118.98,267.04h7.20M122.58,263.44v7.20M118.75,267.04h7.20M122.35,263.44v7.20M120.32,270.25h7.20M123.92,266.65v7.20M121.37,271.78h7.20M124.97,268.18v7.20M121.79,271.78h7.20M125.39,268.18v7.20M122.62,273.73h7.20M126.22,270.13v7.20M122.91,273.73h7.20M126.51,270.13v7.20M126.18,276.24h7.20M129.78,272.64v7.20M125.13,276.24h7.20M128.73,272.64v7.20M127.42,279.30h7.20M131.02,275.70v7.20M128.39,281.32h7.20M131.99,277.72v7.20M130.10,283.10h7.20M133.70,279.50v7.20M130.77,283.10h7.20M134.37,279.50v7.20M131.81,287.22h7.20M135.41,283.62v7.20M133.09,289.81h7.20M136.69,286.21v7.20M133.31,289.81h7.20M136.91,286.21v7.20M137.40,294.19h7.20M141.00,290.59v7.20M139.05,298.45h7.20M142.65,294.85v7.20M140.11,301.28h7.20M143.71,297.68v7.20M140.97,301.28h7.20M144.57,297.68v7.20M142.53,304.38h7.20M146.13,300.78v7.20M142.00,304.38h7.20M145.60,300.78v7.20M143.86,307.30h7.20M147.46,303.70v7.20M143.72,307.30h7.20M147.32,303.70v7.20M146.76,310.49h7.20M150.36,306.89v7.20M149.28,310.49h7.20M152.88,306.89v7.20M151.65,313.62h7.20M155.25,310.02v7.20M150.95,313.62h7.20M154.55,310.02v7.20M152.89,316.71h7.20M156.49,313.11v7.20M155.12,316.71h7.20M158.72,313.11v7.20M159.22,320.02h7.20M162.82,316.42v7.20M158.04,320.02h7.20M161.64,316.42v7.20M161.01,323.98h7.20M164.61,320.38v7.20M159.80,323.98h7.20M163.40,320.38v7.20M164.65,327.02h7.20M168.25,323.42v7.20M162.85,327.02h7.20M166.45,323.42v7.20M165.63,330.14h7.20M169.23,326.54v7.20M167.98,330.14h7.20M171.58,326.54v7.20M169.59,334.07h7.20M173.19,330.47v7.20M169.36,334.07h7.20M172.96,330.47v7.20M173.26,336.16h7.20M176.86,332.56v7.20M171.95,336.16h7.20M175.55,332.56v7.20M172.26,336.16h7.20M175.86,332.56v7.20M180.09,338.46h7.20M183.69,334.86v7.20M178.90,338.46h7.20M182.50,334.86v7.20M179.83,338.46h7.20M183.43,334.86v7.20M181.24,341.82h7.20M184.84,338.22v7.20M182.92,341.82h7.20M186.52,338.22v7.20M185.31,344.14h7.20M188.91,340.54v7.20M188.69,344.14h7.20M192.29,340.54v7.20M190.94,346.85h7.20M194.54,343.25v7.20M194.00,348.60h7.20M197.60,345.00v7.20M195.70,348.60h7.20M199.30,345.00v7.20M194.53,348.60h7.20M198.13,345.00v7.20M199.00,348.60h7.20M202.60,345.00v7.20M199.61,348.60h7.20M203.21,345.00v7.20M199.84,348.60h7.20M203.44,345.00v7.20M204.47,348.60h7.20M208.07,345.00v7.20M203.29,348.60h7.20M206.89,345.00v7.20M207.22,348.60h7.20M210.82,345.00v7.20M209.44,348.60h7.20M213.04,345.00v7.20M208.27,348.60h7.20M211.87,345.00v7.20M192.97,348.60h7.20M196.57,345.00v7.20M195.94,348.60h7.20M199.54,345.00v7.20M198.00,348.60h7.20M201.60,345.00v7.20M201.20,348.60h7.20M204.80,345.00v7.20M203.27,348.60h7.20M206.87,345.00v7.20M206.01,348.60h7.20M209.61,345.00v7.20M207.94,348.60h7.20M211.54,345.00v7.20" stroke-width="1.1" stroke-opacity="1.0"/>
</g>
<g clip-path="url(#cl)" fill="none" stroke="#e8041c">
<path d="M52.00,44.60 52.28,44.60 52.28,46.32 52.51,46.32 52.51,47.74 52.85,47.74 52.85,49.82 53.10,49.82 53.10,51.36 53.31,51.36 53.31,52.70 53.65,52.70 53.65,54.79 54.19,54.79 54.19,58.07 54.80,58.07 54.80,61.04 55.63,61.04 55.63,63.89 56.11,63.89 56.11,65.54 56.79,65.54 56.79,67.89 57.30,67.89 57.30,69.66 57.75,69.66 57.75,71.21 58.16,71.21 58.16,72.60 58.63,72.60 58.63,74.25 59.57,74.25 59.57,77.47 60.46,77.47 60.46,80.48 61.41,80.48 61.41,83.43 62.37,83.43 62.37,86.36 62.89,86.36 62.89,87.96 63.49,87.96 63.49,89.82 64.32,89.82 64.32,92.38 65.24,92.38 65.24,95.19 66.24,95.19 66.24,98.28 67.27,98.28 67.27,101.43 67.73,101.43 67.73,102.81 68.56,102.81 68.56,105.37 69.45,105.37 69.45,108.07 70.22,108.07 70.22,110.41 70.75,110.41 70.75,112.02 71.50,112.02 71.50,114.30 71.96,114.30 71.96,115.71 73.06,115.71 73.06,119.05 74.29,119.05 74.29,122.18 75.30,122.18 75.30,124.59 76.08,124.59 76.08,126.46 77.44,126.46 77.44,129.70 78.48,129.70 78.48,132.20 79.83,132.20 79.83,135.41 81.15,135.41 81.15,138.57 82.09,138.57 82.09,140.99 82.86,140.99 82.86,143.24 83.79,143.24 83.79,145.93 84.58,145.93 84.58,148.24 85.16,148.24 85.16,149.91 85.85,149.91 85.85,151.93 86.97,151.93 86.97,155.18 87.45,155.18 87.45,156.59 87.94,156.59 87.94,158.01 89.05,158.01 89.05,160.78 90.06,160.78 90.06,162.64 91.39,162.64 91.39,165.10 92.53,165.10 92.53,167.48 93.53,167.48 93.53,169.58 95.28,169.58 95.28,173.24 96.13,173.24 96.13,175.02 97.23,175.02 97.23,177.33 98.10,177.33 98.10,179.16 99.79,179.16 99.79,181.84 101.08,181.84 101.08,183.68 102.53,183.68 102.53,185.69 104.71,185.69 104.71,188.53 106.19,188.53 106.19,190.47 108.09,190.47 108.09,192.95 110.61,192.95 110.61,196.23 111.77,196.23 111.77,197.75 112.87,197.75 112.87,199.18 114.23,199.18 114.23,201.05 116.46,201.05 116.46,204.23 118.47,204.23 118.47,207.10 119.86,207.10 119.86,209.08 121.75,209.08 121.75,211.00 123.54,211.00 123.54,212.43 126.00,212.43 126.00,214.46 127.42,214.46 127.42,215.78 130.37,215.78 130.37,218.50 133.99,218.50 133.99,221.52 137.98,221.52 137.98,224.56 141.49,224.56 141.49,227.23 145.27,227.23 145.27,230.91 146.74,230.91 146.74,232.47 148.86,232.47 148.86,234.75 152.54,234.75 152.54,238.91 156.45,238.91 156.45,241.97 159.59,241.97 159.59,244.06 164.47,244.06 164.47,247.31 168.45,247.31 168.45,249.97 172.83,249.97 172.83,253.61 175.70,253.61 175.70,256.00 178.29,256.00 178.29,258.16 181.87,258.16 181.87,260.86 184.66,260.86 184.66,262.60 188.40,262.60 188.40,264.93 194.48,264.93 194.48,268.59 198.30,268.59 198.30,270.88 200.89,270.88 200.89,272.50 203.67,272.50 203.67,274.24 207.01,274.24 207.01,276.33 213.52,276.33 213.52,278.20 215.50,278.20 215.50,278.20" stroke-width="2.0"/>
<path d="M52.17,63.89h7.20M55.77,60.29v7.20M54.66,72.60h7.20M58.26,69.00v7.20M56.17,77.47h7.20M59.77,73.87v7.20M58.19,83.43h7.20M61.79,79.83v7.20M58.89,86.36h7.20M62.49,82.76v7.20M60.11,89.82h7.20M63.71,86.22v7.20M63.08,98.28h7.20M66.68,94.68v7.20M64.02,101.43h7.20M67.62,97.83v7.20M64.77,102.81h7.20M68.37,99.21v7.20M65.08,105.37h7.20M68.68,101.77v7.20M66.43,108.07h7.20M70.03,104.47v7.20M67.79,112.02h7.20M71.39,108.42v7.20M68.06,114.30h7.20M71.66,110.70v7.20M68.53,115.71h7.20M72.13,112.11v7.20M70.00,119.05h7.20M73.60,115.45v7.20M70.75,122.18h7.20M74.35,118.58v7.20M72.09,124.59h7.20M75.69,120.99v7.20M72.57,126.46h7.20M76.17,122.86v7.20M74.86,129.70h7.20M78.46,126.10v7.20M75.32,132.20h7.20M78.92,128.60v7.20M76.75,135.41h7.20M80.35,131.81v7.20M77.67,138.57h7.20M81.27,134.97v7.20M79.04,140.99h7.20M82.64,137.39v7.20M79.31,143.24h7.20M82.91,139.64v7.20M81.12,148.24h7.20M84.72,144.64v7.20M82.12,149.91h7.20M85.72,146.31v7.20M83.04,151.93h7.20M86.64,148.33v7.20M83.76,155.18h7.20M87.36,151.58v7.20M84.03,156.59h7.20M87.63,152.99v7.20M85.31,158.01h7.20M88.91,154.41v7.20M87.56,162.64h7.20M91.16,159.04v7.20M88.40,165.10h7.20M92.00,161.50v7.20M89.29,167.48h7.20M92.89,163.88v7.20M90.02,169.58h7.20M93.62,165.98v7.20M93.52,175.02h7.20M97.12,171.42v7.20M93.79,177.33h7.20M97.39,173.73v7.20M94.61,179.16h7.20M98.21,175.56v7.20M96.80,181.84h7.20M100.40,178.24v7.20M98.61,183.68h7.20M102.21,180.08v7.20M101.07,185.69h7.20M104.67,182.09v7.20M102.01,188.53h7.20M105.61,184.93v7.20M103.33,190.47h7.20M106.93,186.87v7.20M103.95,190.47h7.20M107.55,186.87v7.20M106.48,192.95h7.20M110.08,189.35v7.20M105.80,192.95h7.20M109.40,189.35v7.20M107.13,196.23h7.20M110.73,192.63v7.20M108.84,197.75h7.20M112.44,194.15v7.20M109.72,199.18h7.20M113.32,195.58v7.20M110.71,201.05h7.20M114.31,197.45v7.20M114.22,204.23h7.20M117.82,200.63v7.20M116.21,207.10h7.20M119.81,203.50v7.20M117.47,209.08h7.20M121.07,205.48v7.20M118.69,211.00h7.20M122.29,207.40v7.20M120.53,212.43h7.20M124.13,208.83v7.20M120.13,212.43h7.20M123.73,208.83v7.20M123.48,214.46h7.20M127.08,210.86v7.20M126.62,215.78h7.20M130.22,212.18v7.20M125.38,215.78h7.20M128.98,212.18v7.20M127.91,218.50h7.20M131.51,214.90v7.20M130.92,221.52h7.20M134.52,217.92v7.20M131.06,221.52h7.20M134.66,217.92v7.20M136.84,224.56h7.20M140.44,220.96v7.20M135.77,224.56h7.20M139.37,220.96v7.20M139.11,227.23h7.20M142.71,223.63v7.20M141.43,227.23h7.20M145.03,223.63v7.20M142.91,230.91h7.20M146.51,227.31v7.20M143.53,232.47h7.20M147.13,228.87v7.20M146.74,234.75h7.20M150.34,231.15v7.20M148.16,234.75h7.20M151.76,231.15v7.20M151.63,238.91h7.20M155.23,235.31v7.20M149.89,238.91h7.20M153.49,235.31v7.20M153.96,241.97h7.20M157.56,238.37v7.20M156.34,244.06h7.20M159.94,240.46v7.20M157.01,244.06h7.20M160.61,240.46v7.20M156.64,244.06h7.20M160.24,240.46v7.20M160.87,247.31h7.20M164.47,243.71v7.20M163.20,247.31h7.20M166.80,243.71v7.20M166.36,249.97h7.20M169.96,246.37v7.20M169.22,249.97h7.20M172.82,246.37v7.20M171.09,253.61h7.20M174.69,250.01v7.20M174.56,256.00h7.20M178.16,252.40v7.20M172.76,256.00h7.20M176.36,252.40v7.20M177.72,258.16h7.20M181.32,254.56v7.20M176.38,258.16h7.20M179.98,254.56v7.20M179.46,260.86h7.20M183.06,257.26v7.20M181.45,262.60h7.20M185.05,259.00v7.20M182.49,262.60h7.20M186.09,259.00v7.20M190.05,264.93h7.20M193.65,261.33v7.20M188.29,264.93h7.20M191.89,261.33v7.20M194.61,268.59h7.20M198.21,264.99v7.20M194.29,268.59h7.20M197.89,264.99v7.20M195.71,270.88h7.20M199.31,267.28v7.20M195.79,270.88h7.20M199.39,267.28v7.20M199.79,272.50h7.20M203.39,268.90v7.20M198.62,272.50h7.20M202.22,268.90v7.20M202.81,274.24h7.20M206.41,270.64v7.20M206.02,276.33h7.20M209.62,272.73v7.20M206.31,276.33h7.20M209.91,272.73v7.20M209.27,276.33h7.20M212.87,272.73v7.20M211.60,278.20h7.20M215.20,274.60v7.20M206.92,278.20h7.20M210.52,274.60v7.20M208.88,278.20h7.20M212.48,274.60v7.20M211.23,278.20h7.20M214.83,274.60v7.20" stroke-width="1.1" stroke-opacity="1.0"/>
</g>
<g clip-path="url(#cr)" fill="none" stroke="#2e4ce8">
<path d="M318.45,44.60 318.66,44.60 318.66,47.22 318.90,47.22 318.90,50.12 319.15,50.12 319.15,53.14 319.55,53.14 319.55,56.48 320.04,56.48 320.04,59.34 320.62,59.34 320.62,62.62 320.85,62.62 320.85,63.86 321.27,63.86 321.27,66.10 321.89,66.10 321.89,69.42 322.51,69.42 322.51,72.05 323.31,72.05 323.31,75.23 323.66,75.23 323.66,76.66 324.22,76.66 324.22,78.88 324.69,78.88 324.69,80.60 325.42,80.60 325.42,82.96 326.17,82.96 326.17,85.39 326.54,85.39 326.54,86.58 327.05,86.58 327.05,88.23 327.60,88.23 327.60,90.01 328.60,90.01 328.60,93.22 329.49,93.22 329.49,96.09 329.96,96.09 329.96,97.62 330.84,97.62 330.84,100.59 331.19,100.59 331.19,102.12 331.79,102.12 331.79,104.73 332.13,104.73 332.13,106.23 332.41,106.23 332.41,107.45 333.21,107.45 333.21,110.64 333.76,110.64 333.76,112.29 334.31,112.29 334.31,113.96 335.43,113.96 335.43,117.36 336.48,117.36 336.48,120.52 337.12,120.52 337.12,122.37 338.29,122.37 338.29,125.73 339.13,125.73 339.13,128.16 340.08,128.16 340.08,130.91 340.66,130.91 340.66,132.59 341.84,132.59 341.84,135.95 342.85,135.95 342.85,138.75 344.09,138.75 344.09,142.19 345.28,142.19 345.28,145.48 345.98,145.48 345.98,147.42 346.73,147.42 346.73,149.50 347.32,149.50 347.32,151.14 347.89,151.14 347.89,152.73 348.40,152.73 348.40,154.15 349.08,154.15 349.08,156.13 349.74,156.13 349.74,158.90 350.06,158.90 350.06,160.23 350.77,160.23 350.77,163.20 351.29,163.20 351.29,165.35 351.79,165.35 351.79,167.43 352.59,167.43 352.59,170.78 353.28,170.78 353.28,173.27 354.03,173.27 354.03,175.33 354.92,175.33 354.92,177.78 356.02,177.78 356.02,180.79 356.55,180.79 356.55,182.25 357.89,182.25 357.89,185.94 358.39,185.94 358.39,187.33 359.58,187.33 359.58,190.49 360.91,190.49 360.91,193.89 361.46,193.89 361.46,195.28 362.74,195.28 362.74,198.57 363.67,198.57 363.67,200.83 364.90,200.83 364.90,203.59 365.52,203.59 365.52,204.97 366.18,204.97 366.18,206.45 366.99,206.45 366.99,208.27 368.66,208.27 368.66,212.01 369.51,212.01 369.51,213.89 371.07,213.89 371.07,217.14 372.92,217.14 372.92,220.83 374.80,220.83 374.80,224.59 375.94,224.59 375.94,226.89 377.16,226.89 377.16,229.19 379.18,229.19 379.18,231.57 381.69,231.57 381.69,234.53 382.98,234.53 382.98,236.05 385.50,236.05 385.50,239.02 388.15,239.02 388.15,242.15 390.97,242.15 390.97,245.47 392.25,245.47 392.25,246.89 395.42,246.89 395.42,250.41 396.85,250.41 396.85,252.00 398.82,252.00 398.82,254.19 401.38,254.19 401.38,257.08 404.63,257.08 404.63,260.79 406.68,260.79 406.68,263.13 409.89,263.13 409.89,267.11 412.34,267.11 412.34,270.18 414.33,270.18 414.33,272.66 416.35,272.66 416.35,275.18 418.09,275.18 418.09,277.36 419.62,277.36 419.62,279.28 421.32,279.28 421.32,281.44 424.14,281.44 424.14,285.27 427.69,285.27 427.69,290.09 429.43,290.09 429.43,292.47 430.95,292.47 430.95,294.53 435.35,294.53 435.35,298.90 438.61,298.90 438.61,302.13 441.51,302.13 441.51,305.12 443.83,305.12 443.83,307.80 446.81,307.80 446.81,311.84 448.69,311.84 448.69,317.68 451.05,317.68 451.05,321.69 453.74,321.69 453.74,325.04 456.78,325.04 456.78,325.20 463.52,325.20 463.52,326.15 465.98,326.15 465.98,328.11 468.32,328.11 468.32,332.84 472.48,332.84 472.48,337.83 474.81,337.83 474.81,340.71 478.61,340.71 478.61,346.41 481.97,346.41 481.97,353.67 483.67,353.67 483.67,360.06 490.23,360.06 490.23,361.30 494.35,361.30 494.35,361.30 498.00,361.30 498.00,363.68 498.00,363.68 498.00,368.23 502.09,368.23 502.09,374.08 503.00,374.08 503.00,379.00 503.00,379.00 503.00,385.44 503.00,385.44 503.00,395.00" stroke-width="1.0"/>
<path d="M321.46,80.60h7.20M325.06,77.00v7.20M322.58,85.39h7.20M326.18,81.79v7.20M323.37,86.58h7.20M326.97,82.98v7.20M323.62,88.23h7.20M327.22,84.63v7.20M324.12,90.01h7.20M327.72,86.41v7.20M326.36,96.09h7.20M329.96,92.49v7.20M326.58,97.62h7.20M330.18,94.02v7.20M327.55,100.59h7.20M331.15,96.99v7.20M328.16,102.12h7.20M331.76,98.52v7.20M328.46,104.73h7.20M332.06,101.13v7.20M330.00,110.64h7.20M333.60,107.04v7.20M330.29,112.29h7.20M333.89,108.69v7.20M331.24,113.96h7.20M334.84,110.36v7.20M331.85,117.36h7.20M335.45,113.76v7.20M333.47,120.52h7.20M337.07,116.92v7.20M334.17,122.37h7.20M337.77,118.77v7.20M334.81,125.73h7.20M338.41,122.13v7.20M335.90,128.16h7.20M339.50,124.56v7.20M336.77,130.91h7.20M340.37,127.31v7.20M338.15,132.59h7.20M341.75,128.99v7.20M339.05,135.95h7.20M342.65,132.35v7.20M340.44,138.75h7.20M344.04,135.15v7.20M340.79,142.19h7.20M344.39,138.59v7.20M342.48,147.42h7.20M346.08,143.82v7.20M343.42,149.50h7.20M347.02,145.90v7.20M343.84,151.14h7.20M347.44,147.54v7.20M344.35,152.73h7.20M347.95,149.13v7.20M345.38,154.15h7.20M348.98,150.55v7.20M346.25,158.90h7.20M349.85,155.30v7.20M347.87,165.35h7.20M351.47,161.75v7.20M349.46,170.78h7.20M353.06,167.18v7.20M349.89,173.27h7.20M353.49,169.67v7.20M350.60,175.33h7.20M354.20,171.73v7.20M352.06,177.78h7.20M355.66,174.18v7.20M352.74,180.79h7.20M356.34,177.19v7.20M352.96,182.25h7.20M356.56,178.65v7.20M357.26,190.49h7.20M360.86,186.89v7.20M358.61,195.28h7.20M362.21,191.68v7.20M360.33,200.83h7.20M363.93,197.23v7.20M363.03,206.45h7.20M366.63,202.85v7.20M364.60,208.27h7.20M368.20,204.67v7.20M366.51,213.89h7.20M370.11,210.29v7.20M367.93,217.14h7.20M371.53,213.54v7.20M371.02,220.83h7.20M374.62,217.23v7.20M371.81,224.59h7.20M375.41,220.99v7.20M373.42,226.89h7.20M377.02,223.29v7.20M373.95,229.19h7.20M377.55,225.59v7.20M374.20,229.19h7.20M377.80,225.59v7.20M377.82,231.57h7.20M381.42,227.97v7.20M379.14,234.53h7.20M382.74,230.93v7.20M380.73,236.05h7.20M384.33,232.45v7.20M380.52,236.05h7.20M384.12,232.45v7.20M382.17,239.02h7.20M385.77,235.42v7.20M385.31,242.15h7.20M388.91,238.55v7.20M386.29,242.15h7.20M389.89,238.55v7.20M387.90,245.47h7.20M391.50,241.87v7.20M390.60,246.89h7.20M394.20,243.29v7.20M391.75,246.89h7.20M395.35,243.29v7.20M391.86,250.41h7.20M395.46,246.81v7.20M394.48,252.00h7.20M398.08,248.40v7.20M396.35,254.19h7.20M399.95,250.59v7.20M398.57,257.08h7.20M402.17,253.48v7.20M400.28,257.08h7.20M403.88,253.48v7.20M401.98,260.79h7.20M405.58,257.19v7.20M404.74,263.13h7.20M408.34,259.53v7.20M403.42,263.13h7.20M407.02,259.53v7.20M407.13,267.11h7.20M410.73,263.51v7.20M408.45,267.11h7.20M412.05,263.51v7.20M408.94,270.18h7.20M412.54,266.58v7.20M410.92,272.66h7.20M414.52,269.06v7.20M413.84,275.18h7.20M417.44,271.58v7.20M413.53,275.18h7.20M417.13,271.58v7.20M414.70,277.36h7.20M418.30,273.76v7.20M417.71,279.28h7.20M421.31,275.68v7.20M419.66,281.44h7.20M423.26,277.84v7.20M421.19,285.27h7.20M424.79,281.67v7.20M425.37,290.09h7.20M428.97,286.49v7.20M425.92,292.47h7.20M429.52,288.87v7.20M430.57,294.53h7.20M434.17,290.93v7.20M429.53,294.53h7.20M433.13,290.93v7.20M433.97,298.90h7.20M437.57,295.30v7.20M434.78,298.90h7.20M438.38,295.30v7.20M435.90,302.13h7.20M439.50,298.53v7.20M439.19,305.12h7.20M442.79,301.52v7.20M441.12,307.80h7.20M444.72,304.20v7.20M443.27,311.84h7.20M446.87,308.24v7.20M446.93,317.68h7.20M450.53,314.08v7.20M447.12,317.68h7.20M450.72,314.08v7.20M447.59,321.69h7.20M451.19,318.09v7.20M451.93,325.04h7.20M455.53,321.44v7.20M450.42,325.04h7.20M454.02,321.44v7.20M457.96,325.20h7.20M461.56,321.60v7.20M456.99,325.20h7.20M460.59,321.60v7.20M456.61,325.20h7.20M460.21,321.60v7.20M461.27,326.15h7.20M464.87,322.55v7.20M463.23,328.11h7.20M466.83,324.51v7.20M468.14,332.84h7.20M471.74,329.24v7.20M466.64,332.84h7.20M470.24,329.24v7.20M468.91,337.83h7.20M472.51,334.23v7.20M469.25,337.83h7.20M472.85,334.23v7.20M474.54,340.71h7.20M478.14,337.11v7.20M472.76,340.71h7.20M476.36,337.11v7.20M478.36,346.41h7.20M481.96,342.81v7.20M476.08,346.41h7.20M479.68,342.81v7.20M478.72,353.67h7.20M482.32,350.07v7.20M481.91,360.06h7.20M485.51,356.46v7.20M483.26,360.06h7.20M486.86,356.46v7.20M483.82,360.06h7.20M487.42,356.46v7.20M487.17,361.30h7.20M490.77,357.70v7.20M490.00,361.30h7.20M493.60,357.70v7.20M492.79,361.30h7.20M496.39,357.70v7.20M494.38,361.30h7.20M497.98,357.70v7.20M497.52,368.23h7.20M501.12,364.63v7.20M496.80,368.23h7.20M500.40,364.63v7.20M499.01,374.08h7.20M502.61,370.48v7.20M481.86,361.30h7.20M485.46,357.70v7.20M484.26,361.30h7.20M487.86,357.70v7.20M487.07,361.30h7.20M490.67,357.70v7.20M488.97,361.30h7.20M492.57,357.70v7.20M491.74,361.30h7.20M495.34,357.70v7.20" stroke-width="0.9" stroke-opacity="0.85"/>
</g>
<g clip-path="url(#cr)" fill="none" stroke="#e42a44">
<path d="M318.45,44.60 318.75,44.60 318.75,47.61 319.06,47.61 319.06,50.68 319.30,50.68 319.30,52.99 319.48,52.99 319.48,54.78 319.68,54.78 319.68,55.97 320.18,55.97 320.18,58.65 320.59,58.65 320.59,60.89 321.18,60.89 321.18,63.78 321.61,63.78 321.61,65.80 322.23,65.80 322.23,68.72 322.65,68.72 322.65,70.50 323.53,70.50 323.53,73.43 324.36,73.43 324.36,76.20 324.98,76.20 324.98,78.28 325.70,78.28 325.70,80.63 326.57,80.63 326.57,83.29 327.08,83.29 327.08,84.87 327.86,84.87 327.86,87.26 328.82,87.26 328.82,90.21 329.39,90.21 329.39,91.96 330.35,91.96 330.35,94.92 331.23,94.92 331.23,97.62 332.19,97.62 332.19,100.69 332.73,100.69 332.73,102.65 333.12,102.65 333.12,104.06 333.95,104.06 333.95,107.08 334.78,107.08 334.78,110.12 335.40,110.12 335.40,112.35 335.79,112.35 335.79,113.78 336.25,113.78 336.25,115.44 336.98,115.44 336.98,118.12 337.50,118.12 337.50,120.01 338.42,120.01 338.42,123.43 339.11,123.43 339.11,126.03 339.56,126.03 339.56,127.73 340.30,127.73 340.30,130.50 340.85,130.50 340.85,132.58 341.83,132.58 341.83,135.99 342.94,135.99 342.94,139.31 343.75,139.31 343.75,141.74 344.66,141.74 344.66,144.48 345.62,144.48 345.62,147.35 346.71,147.35 346.71,150.47 348.27,150.47 348.27,153.87 348.86,153.87 348.86,155.15 349.80,155.15 349.80,157.20 350.99,157.20 350.99,159.80 351.88,159.80 351.88,161.73 353.19,161.73 353.19,164.27 353.94,164.27 353.94,165.70 355.62,165.70 355.62,168.91 356.90,168.91 356.90,171.35 357.66,171.35 357.66,172.89 358.87,172.89 358.87,175.78 359.74,175.78 359.74,177.85 360.49,177.85 360.49,179.65 361.54,179.65 361.54,182.16 362.24,182.16 362.24,183.84 363.02,183.84 363.02,185.70 364.54,185.70 364.54,189.14 366.85,189.14 366.85,191.57 367.92,191.57 367.92,192.68 370.43,192.68 370.43,195.31 371.53,195.31 371.53,196.47 373.08,196.47 373.08,198.35 373.99,198.35 373.99,202.35 374.73,202.35 374.73,205.60 375.27,205.60 375.27,207.99 375.86,207.99 375.86,210.59 376.46,210.59 376.46,213.23 376.90,213.23 376.90,215.16 377.89,215.16 377.89,219.51 378.66,219.51 378.66,221.10 380.13,221.10 380.13,223.55 382.10,223.55 382.10,226.83 383.56,226.83 383.56,229.27 386.14,229.27 386.14,233.06 387.56,233.06 387.56,235.08 390.26,235.08 390.26,238.94 393.12,238.94 393.12,242.42 395.69,242.42 395.69,245.36 398.76,245.36 398.76,248.87 400.96,248.87 400.96,251.38 404.01,251.38 404.01,254.87 406.86,254.87 406.86,258.48 409.11,258.48 409.11,261.48 411.50,261.48 411.50,264.08 415.96,264.08 415.96,264.83 419.51,264.83 419.51,265.42 421.47,265.42 421.47,266.88 425.10,266.88 425.10,270.28 427.50,270.28 427.50,272.53 430.99,272.53 430.99,274.80 435.68,274.80 435.68,277.53 438.42,277.53 438.42,279.10 440.58,279.10 440.58,280.54 442.83,280.54 442.83,282.62 446.53,282.62 446.53,286.04 449.63,286.04 449.63,288.87 452.56,288.87 452.56,291.33 456.21,291.33 456.21,294.38 462.43,294.38 462.43,297.46 466.26,297.46 466.26,299.07 470.85,299.07 470.85,301.01 476.93,301.01 476.93,305.11 480.74,305.11 480.74,310.11 483.36,310.11 483.36,314.03 487.25,314.03 487.25,318.40 491.40,318.40 491.40,322.76 494.40,322.76 494.40,325.90 497.76,325.90 497.76,330.52 500.94,330.52 500.94,334.92 505.00,334.92 505.00,341.98 505.00,341.98 505.00,347.74 507.00,347.74 507.00,348.50" stroke-width="1.0"/>
<path d="M322.77,80.63h7.20M326.37,77.03v7.20M323.02,83.29h7.20M326.62,79.69v7.20M323.71,84.87h7.20M327.31,81.27v7.20M324.71,87.26h7.20M328.31,83.66v7.20M326.17,91.96h7.20M329.77,88.36v7.20M327.49,94.92h7.20M331.09,91.32v7.20M328.15,97.62h7.20M331.75,94.02v7.20M329.09,100.69h7.20M332.69,97.09v7.20M330.85,107.08h7.20M334.45,103.48v7.20M331.39,110.12h7.20M334.99,106.52v7.20M332.64,113.78h7.20M336.24,110.18v7.20M333.70,118.12h7.20M337.30,114.52v7.20M334.63,120.01h7.20M338.23,116.41v7.20M335.93,126.03h7.20M339.53,122.43v7.20M336.58,127.73h7.20M340.18,124.13v7.20M336.78,130.50h7.20M340.38,126.90v7.20M337.70,132.58h7.20M341.30,128.98v7.20M338.37,135.99h7.20M341.97,132.39v7.20M340.06,139.31h7.20M343.66,135.71v7.20M340.32,141.74h7.20M343.92,138.14v7.20M341.27,144.48h7.20M344.87,140.88v7.20M342.43,147.35h7.20M346.03,143.75v7.20M343.86,150.47h7.20M347.46,146.87v7.20M345.67,155.15h7.20M349.27,151.55v7.20M347.31,157.20h7.20M350.91,153.60v7.20M347.59,159.80h7.20M351.19,156.20v7.20M348.55,161.73h7.20M352.15,158.13v7.20M350.10,164.27h7.20M353.70,160.67v7.20M350.99,165.70h7.20M354.59,162.10v7.20M352.49,168.91h7.20M356.09,165.31v7.20M353.95,171.35h7.20M357.55,167.75v7.20M355.17,172.89h7.20M358.77,169.29v7.20M355.95,175.78h7.20M359.55,172.18v7.20M356.17,177.85h7.20M359.77,174.25v7.20M357.58,179.65h7.20M361.18,176.05v7.20M358.63,182.16h7.20M362.23,178.56v7.20M359.13,183.84h7.20M362.73,180.24v7.20M360.14,185.70h7.20M363.74,182.10v7.20M362.95,189.14h7.20M366.55,185.54v7.20M363.99,191.57h7.20M367.59,187.97v7.20M366.12,192.68h7.20M369.72,189.08v7.20M366.38,192.68h7.20M369.98,189.08v7.20M367.63,195.31h7.20M371.23,191.71v7.20M368.79,196.47h7.20M372.39,192.87v7.20M369.95,198.35h7.20M373.55,194.75v7.20M371.21,205.60h7.20M374.81,202.00v7.20M371.86,207.99h7.20M375.46,204.39v7.20M373.21,213.23h7.20M376.81,209.63v7.20M373.94,215.16h7.20M377.54,211.56v7.20M374.35,219.51h7.20M377.95,215.91v7.20M376.08,221.10h7.20M379.68,217.50v7.20M377.37,223.55h7.20M380.97,219.95v7.20M379.27,226.83h7.20M382.87,223.23v7.20M380.13,229.27h7.20M383.73,225.67v7.20M383.08,233.06h7.20M386.68,229.46v7.20M383.96,235.08h7.20M387.56,231.48v7.20M387.77,238.94h7.20M391.37,235.34v7.20M389.63,242.42h7.20M393.23,238.82v7.20M390.38,242.42h7.20M393.98,238.82v7.20M393.48,245.36h7.20M397.08,241.76v7.20M394.05,245.36h7.20M397.65,241.76v7.20M396.65,248.87h7.20M400.25,245.27v7.20M400.04,251.38h7.20M403.64,247.78v7.20M402.38,254.87h7.20M405.98,251.27v7.20M400.75,254.87h7.20M404.35,251.27v7.20M405.50,258.48h7.20M409.10,254.88v7.20M406.29,261.48h7.20M409.89,257.88v7.20M410.43,264.08h7.20M414.03,260.48v7.20M411.59,264.08h7.20M415.19,260.48v7.20M414.41,264.83h7.20M418.01,261.23v7.20M413.90,264.83h7.20M417.50,261.23v7.20M416.68,265.42h7.20M420.28,261.82v7.20M416.96,265.42h7.20M420.56,261.82v7.20M420.93,266.88h7.20M424.53,263.28v7.20M420.38,266.88h7.20M423.98,263.28v7.20M423.72,270.28h7.20M427.32,266.68v7.20M427.00,272.53h7.20M430.60,268.93v7.20M425.29,272.53h7.20M428.89,268.93v7.20M430.51,274.80h7.20M434.11,271.20v7.20M428.04,274.80h7.20M431.64,271.20v7.20M434.68,277.53h7.20M438.28,273.93v7.20M432.67,277.53h7.20M436.27,273.93v7.20M435.82,279.10h7.20M439.42,275.50v7.20M438.92,280.54h7.20M442.52,276.94v7.20M439.93,282.62h7.20M443.53,279.02v7.20M444.54,286.04h7.20M448.14,282.44v7.20M444.74,286.04h7.20M448.34,282.44v7.20M448.30,288.87h7.20M451.90,285.27v7.20M450.49,291.33h7.20M454.09,287.73v7.20M453.84,294.38h7.20M457.44,290.78v7.20M457.25,294.38h7.20M460.85,290.78v7.20M452.69,294.38h7.20M456.29,290.78v7.20M460.69,297.46h7.20M464.29,293.86v7.20M459.22,297.46h7.20M462.82,293.86v7.20M465.32,299.07h7.20M468.92,295.47v7.20M465.84,299.07h7.20M469.44,295.47v7.20M465.45,299.07h7.20M469.05,295.47v7.20M473.01,301.01h7.20M476.61,297.41v7.20M467.31,301.01h7.20M470.91,297.41v7.20M470.54,301.01h7.20M474.14,297.41v7.20M476.57,305.11h7.20M480.17,301.51v7.20M474.26,305.11h7.20M477.86,301.51v7.20M478.96,310.11h7.20M482.56,306.51v7.20M477.16,310.11h7.20M480.76,306.51v7.20M480.32,314.03h7.20M483.92,310.43v7.20M482.50,314.03h7.20M486.10,310.43v7.20M485.44,318.40h7.20M489.04,314.80v7.20M483.90,318.40h7.20M487.50,314.80v7.20M488.31,322.76h7.20M491.91,319.16v7.20M489.27,322.76h7.20M492.87,319.16v7.20M492.80,325.90h7.20M496.40,322.30v7.20M496.83,330.52h7.20M500.43,326.92v7.20M499.86,334.92h7.20M503.46,331.32v7.20M501.31,334.92h7.20M504.91,331.32v7.20M502.88,347.74h7.20M506.48,344.14v7.20" stroke-width="0.9" stroke-opacity="0.85"/>
</g>
<g clip-path="url(#cr)" fill="none" stroke="#1330e6">
<path d="M318.45,44.60 318.61,44.60 318.61,46.54 318.73,46.54 318.73,48.08 318.95,48.08 318.95,50.77 319.07,50.77 319.07,52.13 319.26,52.13 319.26,54.56 319.57,54.56 319.57,56.57 319.80,56.57 319.80,57.89 320.20,57.89 320.20,60.22 320.41,60.22 320.41,61.49 320.81,61.49 320.81,63.66 321.06,63.66 321.06,65.00 321.32,65.00 321.32,66.38 321.72,66.38 321.72,68.53 322.39,68.53 322.39,71.56 322.75,71.56 322.75,73.01 323.17,73.01 323.17,74.68 323.81,74.68 323.81,77.26 324.67,77.26 324.67,80.55 325.42,80.55 325.42,82.98 326.06,82.98 326.06,85.02 327.09,85.02 327.09,88.35 327.48,88.35 327.48,89.62 328.43,89.62 328.43,92.69 329.00,92.69 329.00,94.51 329.46,94.51 329.46,96.00 329.91,96.00 329.91,97.44 330.48,97.44 330.48,99.30 331.24,99.30 331.24,102.35 331.61,102.35 331.61,103.97 332.20,103.97 332.20,106.51 332.81,106.51 332.81,109.19 333.40,109.19 333.40,111.22 334.20,111.22 334.20,113.64 334.64,113.64 334.64,114.97 335.08,114.97 335.08,116.29 335.62,116.29 335.62,117.95 336.49,117.95 336.49,120.69 337.09,120.69 337.09,122.89 337.62,122.89 337.62,124.84 338.33,124.84 338.33,127.41 338.95,127.41 338.95,129.69 339.48,129.69 339.48,131.62 340.32,131.62 340.32,134.70 341.28,134.70 341.28,137.51 341.91,137.51 341.91,139.29 342.80,139.29 342.80,141.83 343.65,141.83 343.65,144.27 344.79,144.27 344.79,147.52 345.82,147.52 345.82,150.45 346.50,150.45 346.50,152.37 347.74,152.37 347.74,155.91 348.23,155.91 348.23,157.47 348.95,157.47 348.95,159.74 349.93,159.74 349.93,162.82 350.45,162.82 350.45,164.48 351.24,164.48 351.24,166.94 351.68,166.94 351.68,168.34 352.60,168.34 352.60,171.25 353.68,171.25 353.68,174.38 354.66,174.38 354.66,177.05 355.90,177.05 355.90,180.47 356.65,180.47 356.65,182.55 357.75,182.55 357.75,185.56 358.76,185.56 358.76,188.34 359.82,188.34 359.82,191.09 360.77,191.09 360.77,193.54 362.11,193.54 362.11,196.95 363.55,196.95 363.55,200.64 364.53,200.64 364.53,203.19 365.70,203.19 365.70,206.24 366.30,206.24 366.30,207.79 367.52,207.79 367.52,210.96 368.70,210.96 368.70,214.01 370.22,214.01 370.22,217.97 371.78,217.97 371.78,221.44 372.89,221.44 372.89,223.51 374.15,223.51 374.15,225.84 375.80,225.84 375.80,228.89 376.59,228.89 376.59,230.36 377.98,230.36 377.98,232.94 378.97,232.94 378.97,234.81 379.87,234.81 379.87,236.57 380.70,236.57 380.70,238.19 382.48,238.19 382.48,241.66 383.42,241.66 383.42,243.49 384.53,243.49 384.53,245.65 385.84,245.65 385.84,248.20 387.82,248.20 387.82,252.06 388.75,252.06 388.75,253.82 390.21,253.82 390.21,256.59 391.83,256.59 391.83,259.65 393.95,259.65 393.95,263.66 396.00,263.66 396.00,267.54 398.14,267.54 398.14,271.61 399.44,271.61 399.44,274.06 401.06,274.06 401.06,276.87 402.69,276.87 402.69,279.50 405.04,279.50 405.04,283.76 407.51,283.76 407.51,288.31 408.71,288.31 408.71,290.53 410.14,290.53 410.14,292.74 411.92,292.74 411.92,294.97 413.80,294.97 413.80,297.17 416.27,297.17 416.27,300.07 419.03,300.07 419.03,303.30 421.08,303.30 421.08,305.69 422.50,305.69 422.50,307.42 424.92,307.42 424.92,310.35 427.26,310.35 427.26,313.18 430.08,313.18 430.08,316.65 433.09,316.65 433.09,321.89 435.65,321.89 435.65,326.35 437.93,326.35 437.93,330.25 440.49,330.25 440.49,334.55 443.21,334.55 443.21,339.12 444.66,339.12 444.66,341.55 447.88,341.55 447.88,347.09 450.88,347.09 450.88,352.31 454.09,352.31 454.09,358.00 457.13,358.00 457.13,363.56 459.71,363.56 459.71,367.00 464.45,367.00 464.45,367.00 466.50,367.00 466.50,368.44 466.50,368.44 466.50,374.50 466.50,374.50 466.50,377.84 466.50,377.84 466.50,381.20 466.50,381.20 466.50,385.24 466.50,385.24 466.50,389.06 466.50,389.06 466.50,393.72 466.50,393.72 466.50,395.00" stroke-width="2.0"/>
<path d="M315.73,54.56h7.20M319.33,50.96v7.20M317.43,63.66h7.20M321.03,60.06v7.20M320.88,77.26h7.20M324.48,73.66v7.20M323.09,85.02h7.20M326.69,81.42v7.20M325.03,92.69h7.20M328.63,89.09v7.20M325.64,94.51h7.20M329.24,90.91v7.20M326.14,96.00h7.20M329.74,92.40v7.20M327.99,102.35h7.20M331.59,98.75v7.20M328.32,103.97h7.20M331.92,100.37v7.20M330.22,111.22h7.20M333.82,107.62v7.20M331.11,114.97h7.20M334.71,111.37v7.20M331.52,116.29h7.20M335.12,112.69v7.20M333.52,122.89h7.20M337.12,119.29v7.20M334.55,124.84h7.20M338.15,121.24v7.20M334.82,127.41h7.20M338.42,123.81v7.20M335.91,131.62h7.20M339.51,128.02v7.20M337.15,134.70h7.20M340.75,131.10v7.20M337.92,137.51h7.20M341.52,133.91v7.20M338.59,139.29h7.20M342.19,135.69v7.20M339.34,141.83h7.20M342.94,138.23v7.20M340.92,144.27h7.20M344.52,140.67v7.20M341.77,147.52h7.20M345.37,143.92v7.20M342.55,150.45h7.20M346.15,146.85v7.20M343.34,152.37h7.20M346.94,148.77v7.20M344.27,155.91h7.20M347.87,152.31v7.20M345.08,157.47h7.20M348.68,153.87v7.20M345.60,159.74h7.20M349.20,156.14v7.20M346.72,162.82h7.20M350.32,159.22v7.20M347.60,164.48h7.20M351.20,160.88v7.20M348.80,168.34h7.20M352.40,164.74v7.20M349.57,171.25h7.20M353.17,167.65v7.20M350.60,174.38h7.20M354.20,170.78v7.20M351.94,177.05h7.20M355.54,173.45v7.20M352.49,180.47h7.20M356.09,176.87v7.20M353.98,182.55h7.20M357.58,178.95v7.20M354.90,185.56h7.20M358.50,181.96v7.20M356.00,188.34h7.20M359.60,184.74v7.20M356.46,191.09h7.20M360.06,187.49v7.20M357.43,193.54h7.20M361.03,189.94v7.20M359.66,196.95h7.20M363.26,193.35v7.20M360.89,200.64h7.20M364.49,197.04v7.20M361.91,203.19h7.20M365.51,199.59v7.20M362.66,206.24h7.20M366.26,202.64v7.20M362.86,207.79h7.20M366.46,204.19v7.20M364.48,210.96h7.20M368.08,207.36v7.20M366.43,214.01h7.20M370.03,210.41v7.20M366.77,217.97h7.20M370.37,214.37v7.20M368.39,221.44h7.20M371.99,217.84v7.20M369.51,223.51h7.20M373.11,219.91v7.20M371.91,225.84h7.20M375.51,222.24v7.20M372.52,228.89h7.20M376.12,225.29v7.20M373.50,230.36h7.20M377.10,226.76v7.20M374.46,232.94h7.20M378.06,229.34v7.20M375.54,234.81h7.20M379.14,231.21v7.20M376.43,236.57h7.20M380.03,232.97v7.20M378.75,238.19h7.20M382.35,234.59v7.20M379.37,241.66h7.20M382.97,238.06v7.20M379.92,243.49h7.20M383.52,239.89v7.20M381.81,245.65h7.20M385.41,242.05v7.20M383.16,248.20h7.20M386.76,244.60v7.20M384.27,252.06h7.20M387.87,248.46v7.20M386.20,253.82h7.20M389.80,250.22v7.20M387.90,256.59h7.20M391.50,252.99v7.20M387.23,256.59h7.20M390.83,252.99v7.20M389.72,259.65h7.20M393.32,256.05v7.20M390.64,263.66h7.20M394.24,260.06v7.20M393.50,267.54h7.20M397.10,263.94v7.20M395.65,271.61h7.20M399.25,268.01v7.20M396.09,274.06h7.20M399.69,270.46v7.20M397.95,276.87h7.20M401.55,273.27v7.20M399.24,279.50h7.20M402.84,275.90v7.20M399.17,279.50h7.20M402.77,275.90v7.20M403.50,283.76h7.20M407.10,280.16v7.20M405.05,288.31h7.20M408.65,284.71v7.20M405.27,290.53h7.20M408.87,286.93v7.20M406.70,292.74h7.20M410.30,289.14v7.20M407.81,292.74h7.20M411.41,289.14v7.20M408.35,294.97h7.20M411.95,291.37v7.20M412.40,297.17h7.20M416.00,293.57v7.20M411.84,297.17h7.20M415.44,293.57v7.20M414.94,300.07h7.20M418.54,296.47v7.20M412.68,300.07h7.20M416.28,296.47v7.20M415.58,303.30h7.20M419.18,299.70v7.20M415.83,303.30h7.20M419.43,299.70v7.20M418.61,305.69h7.20M422.21,302.09v7.20M420.60,307.42h7.20M424.20,303.82v7.20M423.16,310.35h7.20M426.76,306.75v7.20M425.08,313.18h7.20M428.68,309.58v7.20M429.32,316.65h7.20M432.92,313.05v7.20M429.73,321.89h7.20M433.33,318.29v7.20M433.16,326.35h7.20M436.76,322.75v7.20M433.33,326.35h7.20M436.93,322.75v7.20M436.66,330.25h7.20M440.26,326.65v7.20M436.92,334.55h7.20M440.52,330.95v7.20M439.75,339.12h7.20M443.35,335.52v7.20M444.02,341.55h7.20M447.62,337.95v7.20M445.65,347.09h7.20M449.25,343.49v7.20M445.50,347.09h7.20M449.10,343.49v7.20M449.52,352.31h7.20M453.12,348.71v7.20M451.81,358.00h7.20M455.41,354.40v7.20M454.86,363.56h7.20M458.46,359.96v7.20M456.10,363.56h7.20M459.70,359.96v7.20M456.16,367.00h7.20M459.76,363.40v7.20M460.83,367.00h7.20M464.43,363.40v7.20M462.59,367.00h7.20M466.19,363.40v7.20M457.37,367.00h7.20M460.97,363.40v7.20M459.24,367.00h7.20M462.84,363.40v7.20M462.06,367.00h7.20M465.66,363.40v7.20" stroke-width="1.1" stroke-opacity="1.0"/>
</g>
<g clip-path="url(#cr)" fill="none" stroke="#e8041c">
<path d="M318.45,44.60 318.62,44.60 318.62,46.31 318.97,46.31 318.97,49.71 319.12,49.71 319.12,51.19 319.40,51.19 319.40,54.00 319.57,54.00 319.57,55.38 319.89,55.38 319.89,57.12 320.53,57.12 320.53,60.57 320.85,60.57 320.85,62.22 321.40,62.22 321.40,64.84 321.87,64.84 321.87,67.06 322.34,67.06 322.34,69.26 322.96,69.26 322.96,71.52 323.43,71.52 323.43,73.10 324.33,73.10 324.33,76.10 324.74,76.10 324.74,77.45 325.24,77.45 325.24,79.13 325.62,79.13 325.62,80.34 326.23,80.34 326.23,82.06 326.96,82.06 326.96,84.10 328.07,84.10 328.07,87.23 328.77,87.23 328.77,89.21 329.27,89.21 329.27,90.62 329.88,90.62 329.88,92.34 331.07,92.34 331.07,95.69 331.53,95.69 331.53,97.00 332.44,97.00 332.44,99.54 333.17,99.54 333.17,101.54 334.14,101.54 334.14,104.17 334.85,104.17 334.85,106.09 335.86,106.09 335.86,108.81 336.80,108.81 336.80,111.06 338.00,111.06 338.00,113.61 339.46,113.61 339.46,116.72 340.60,116.72 340.60,119.14 341.23,119.14 341.23,120.65 341.71,120.65 341.71,122.01 342.90,122.01 342.90,125.40 343.73,125.40 343.73,127.75 344.32,127.75 344.32,129.43 345.74,129.43 345.74,132.77 346.93,132.77 346.93,135.25 348.28,135.25 348.28,138.08 349.73,138.08 349.73,141.30 350.52,141.30 350.52,143.21 351.37,143.21 351.37,145.30 352.73,145.30 352.73,148.61 353.39,148.61 353.39,150.20 354.98,150.20 354.98,153.10 355.92,153.10 355.92,154.45 357.75,154.45 357.75,157.06 359.60,157.06 359.60,159.71 361.85,159.71 361.85,162.93 363.96,162.93 363.96,165.95 365.70,165.95 365.70,168.18 366.94,168.18 366.94,169.78 368.12,169.78 368.12,171.29 369.94,171.29 369.94,173.63 371.91,173.63 371.91,175.80 373.22,175.80 373.22,176.97 376.08,176.97 376.08,179.88 377.78,179.88 377.78,182.41 379.79,182.41 379.79,185.44 381.06,185.44 381.06,187.34 382.38,187.34 382.38,189.32 383.33,189.32 383.33,190.75 384.84,190.75 384.84,193.00 386.23,193.00 386.23,195.09 387.89,195.09 387.89,197.58 389.49,197.58 389.49,199.99 391.86,199.99 391.86,203.60 394.35,203.60 394.35,207.42 395.66,207.42 395.66,209.42 397.36,209.42 397.36,212.01 398.97,212.01 398.97,213.76 402.14,213.76 402.14,216.24 406.19,216.24 406.19,219.41 408.30,219.41 408.30,221.06 412.53,221.06 412.53,222.71 415.58,222.71 415.58,223.43 417.71,223.43 417.71,223.93 422.44,223.93 422.44,225.27 425.82,225.27 425.82,226.23 428.50,226.23 428.50,227.15 428.50,227.15 428.50,231.17 428.50,231.17 428.50,234.40 428.50,234.40 428.50,238.32 428.87,238.32 428.87,242.00 432.82,242.00 432.82,242.00 437.50,242.00 437.50,242.05 437.50,242.05 437.50,245.71 437.50,245.71 437.50,248.60 437.50,248.60 437.50,251.45 439.88,251.45 439.88,252.00 444.55,252.00 444.55,252.00 448.69,252.00 448.69,252.00 454.85,252.00 454.85,252.00 455.50,252.00 455.50,256.42 455.50,256.42 455.50,262.41 455.50,262.41 455.50,269.61 456.22,269.61 456.22,272.00 459.14,272.00 459.14,272.00 459.50,272.00 459.50,275.18 459.50,275.18 459.50,279.85 460.38,279.85 460.38,284.50 466.71,284.50 466.71,284.50 471.43,284.50 471.43,284.50 477.50,284.50 477.50,284.50" stroke-width="2.0"/>
<path d="M320.22,73.10h7.20M323.82,69.50v7.20M321.11,76.10h7.20M324.71,72.50v7.20M321.99,79.13h7.20M325.59,75.53v7.20M325.28,89.21h7.20M328.88,85.61v7.20M326.02,90.62h7.20M329.62,87.02v7.20M327.44,92.34h7.20M331.04,88.74v7.20M327.85,95.69h7.20M331.45,92.09v7.20M328.29,97.00h7.20M331.89,93.40v7.20M329.60,101.54h7.20M333.20,97.94v7.20M331.16,104.17h7.20M334.76,100.57v7.20M332.45,108.81h7.20M336.05,105.21v7.20M333.79,111.06h7.20M337.39,107.46v7.20M335.71,113.61h7.20M339.31,110.01v7.20M336.40,116.72h7.20M340.00,113.12v7.20M337.04,119.14h7.20M340.64,115.54v7.20M337.63,120.65h7.20M341.23,117.05v7.20M338.85,122.01h7.20M342.45,118.41v7.20M339.81,125.40h7.20M343.41,121.80v7.20M340.26,127.75h7.20M343.86,124.15v7.20M341.13,129.43h7.20M344.73,125.83v7.20M343.04,132.77h7.20M346.64,129.17v7.20M343.40,135.25h7.20M347.00,131.65v7.20M345.57,138.08h7.20M349.17,134.48v7.20M346.42,141.30h7.20M350.02,137.70v7.20M347.02,143.21h7.20M350.62,139.61v7.20M348.32,145.30h7.20M351.92,141.70v7.20M349.27,148.61h7.20M352.87,145.01v7.20M350.24,150.20h7.20M353.84,146.60v7.20M352.16,153.10h7.20M355.76,149.50v7.20M352.36,154.45h7.20M355.96,150.85v7.20M354.65,157.06h7.20M358.25,153.46v7.20M356.60,159.71h7.20M360.20,156.11v7.20M359.34,162.93h7.20M362.94,159.33v7.20M360.58,165.95h7.20M364.18,162.35v7.20M363.01,168.18h7.20M366.61,164.58v7.20M363.71,169.78h7.20M367.31,166.18v7.20M365.83,171.29h7.20M369.43,167.69v7.20M367.30,173.63h7.20M370.90,170.03v7.20M368.82,175.80h7.20M372.42,172.20v7.20M371.72,176.97h7.20M375.32,173.37v7.20M373.65,179.88h7.20M377.25,176.28v7.20M374.35,182.41h7.20M377.95,178.81v7.20M375.16,182.41h7.20M378.76,178.81v7.20M376.90,185.44h7.20M380.50,181.84v7.20M378.26,187.34h7.20M381.86,183.74v7.20M379.26,189.32h7.20M382.86,185.72v7.20M380.03,190.75h7.20M383.63,187.15v7.20M381.77,193.00h7.20M385.37,189.40v7.20M382.83,195.09h7.20M386.43,191.49v7.20M384.84,197.58h7.20M388.44,193.98v7.20M388.22,199.99h7.20M391.82,196.39v7.20M387.13,199.99h7.20M390.73,196.39v7.20M388.86,203.60h7.20M392.46,200.00v7.20M388.55,203.60h7.20M392.15,200.00v7.20M391.00,207.42h7.20M394.60,203.82v7.20M392.12,209.42h7.20M395.72,205.82v7.20M393.85,212.01h7.20M397.45,208.41v7.20M396.51,213.76h7.20M400.11,210.16v7.20M398.77,216.24h7.20M402.37,212.64v7.20M401.73,216.24h7.20M405.33,212.64v7.20M404.21,219.41h7.20M407.81,215.81v7.20M406.03,221.06h7.20M409.63,217.46v7.20M405.54,221.06h7.20M409.14,217.46v7.20M409.28,222.71h7.20M412.88,219.11v7.20M409.48,222.71h7.20M413.08,219.11v7.20M412.07,223.43h7.20M415.67,219.83v7.20M418.58,223.93h7.20M422.18,220.33v7.20M415.54,223.93h7.20M419.14,220.33v7.20M419.74,225.27h7.20M423.34,221.67v7.20M421.92,225.27h7.20M425.52,221.67v7.20M424.31,226.23h7.20M427.91,222.63v7.20M425.26,238.32h7.20M428.86,234.72v7.20M428.21,242.00h7.20M431.81,238.40v7.20M427.84,242.00h7.20M431.44,238.40v7.20M430.14,242.00h7.20M433.74,238.40v7.20M432.69,242.00h7.20M436.29,238.40v7.20M434.19,251.45h7.20M437.79,247.85v7.20M437.89,252.00h7.20M441.49,248.40v7.20M439.53,252.00h7.20M443.13,248.40v7.20M439.13,252.00h7.20M442.73,248.40v7.20M441.11,252.00h7.20M444.71,248.40v7.20M444.25,252.00h7.20M447.85,248.40v7.20M450.60,252.00h7.20M454.20,248.40v7.20M447.54,252.00h7.20M451.14,248.40v7.20M448.86,252.00h7.20M452.46,248.40v7.20M451.27,252.00h7.20M454.87,248.40v7.20M452.02,269.61h7.20M455.62,266.01v7.20M452.68,272.00h7.20M456.28,268.40v7.20M455.76,272.00h7.20M459.36,268.40v7.20M458.30,284.50h7.20M461.90,280.90v7.20M459.64,284.50h7.20M463.24,280.90v7.20M458.57,284.50h7.20M462.17,280.90v7.20M466.21,284.50h7.20M469.81,280.90v7.20M465.90,284.50h7.20M469.50,280.90v7.20M470.19,284.50h7.20M473.79,280.90v7.20M471.53,284.50h7.20M475.13,280.90v7.20M472.89,284.50h7.20M476.49,280.90v7.20M425.74,242.00h7.20M429.34,238.40v7.20M428.84,242.00h7.20M432.44,238.40v7.20M431.97,242.00h7.20M435.57,238.40v7.20M435.67,252.00h7.20M439.27,248.40v7.20M438.47,252.00h7.20M442.07,248.40v7.20M441.22,252.00h7.20M444.82,248.40v7.20M443.04,252.00h7.20M446.64,248.40v7.20M446.00,252.00h7.20M449.60,248.40v7.20M448.33,252.00h7.20M451.93,248.40v7.20M451.26,252.00h7.20M454.86,248.40v7.20M457.54,284.50h7.20M461.14,280.90v7.20M460.36,284.50h7.20M463.96,280.90v7.20M462.64,284.50h7.20M466.24,280.90v7.20M465.37,284.50h7.20M468.97,280.90v7.20M468.53,284.50h7.20M472.13,280.90v7.20M471.58,284.50h7.20M475.18,280.90v7.20" stroke-width="1.1" stroke-opacity="1.0"/>
</g></svg>
</body></html>
